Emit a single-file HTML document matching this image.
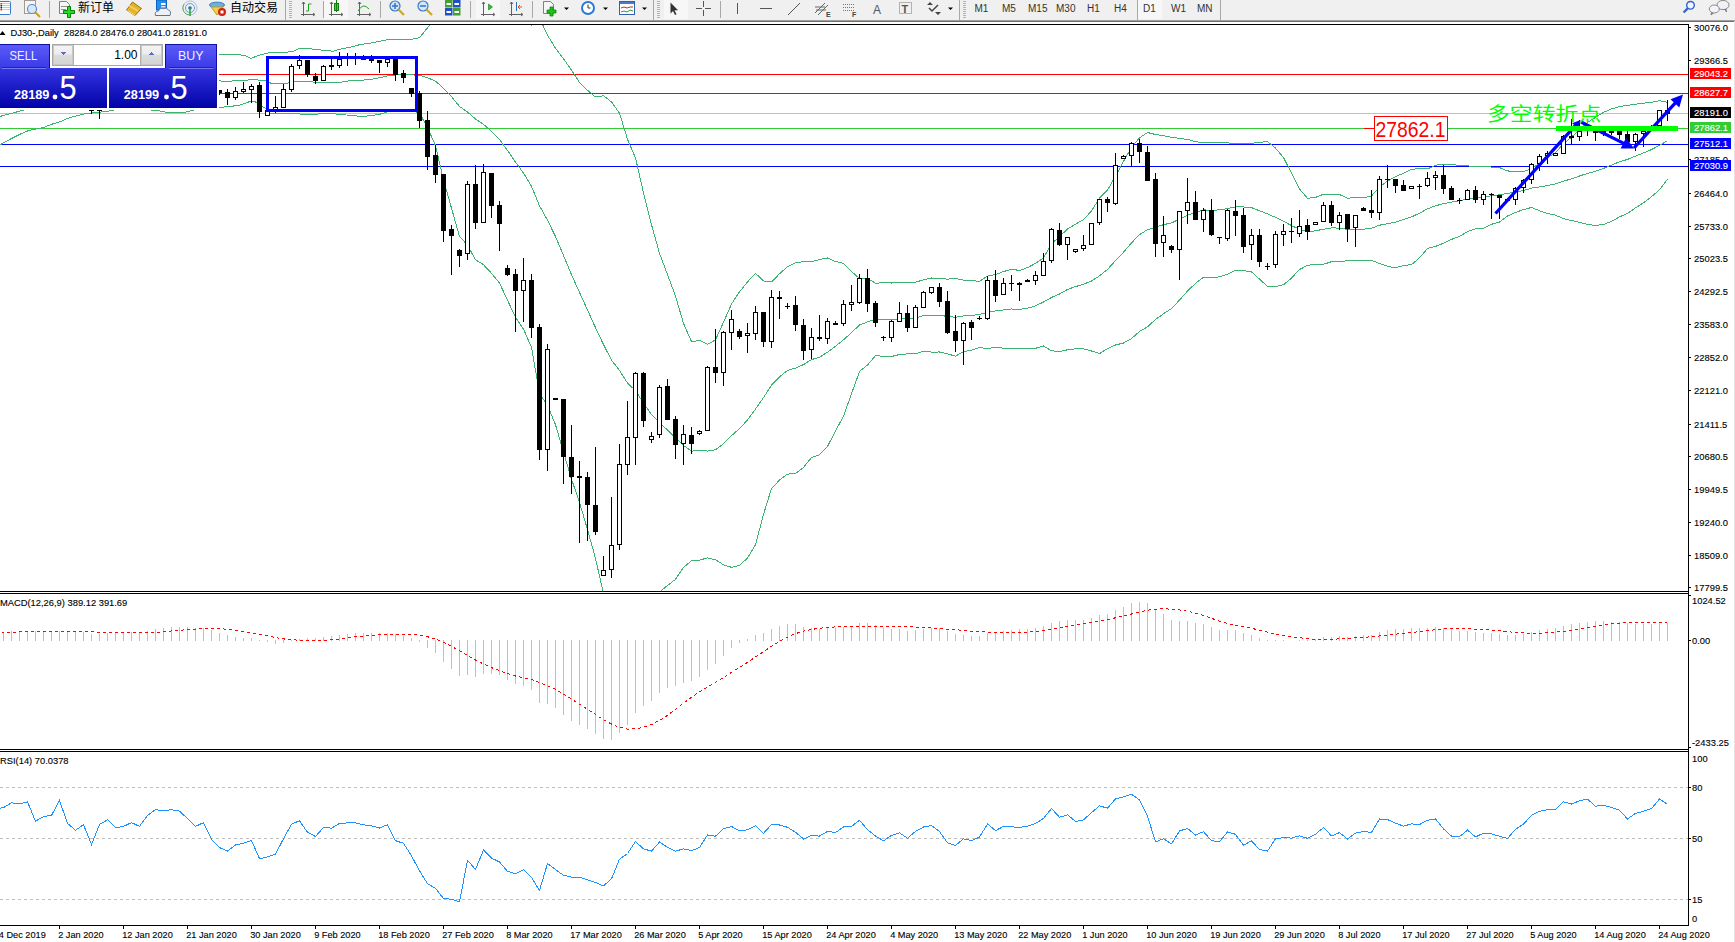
<!DOCTYPE html>
<html><head><meta charset="utf-8">
<style>
html,body{margin:0;padding:0;background:#fff;}
body{width:1735px;height:942px;overflow:hidden;position:relative;}
svg{position:absolute;left:0;top:0;}
text{shape-rendering:auto;}
</style></head><body>
<svg width="1735" height="942" viewBox="0 0 1735 942" shape-rendering="crispEdges">
<rect x="0" y="0" width="1735" height="20" fill="#f0f0f0"/>
<rect x="0" y="20" width="1735" height="1" fill="#a0a0a0"/>
<rect x="0" y="21" width="1735" height="1" fill="#6e6e6e"/>
<rect x="49" y="1" width="1" height="17" fill="#a8a8a8"/>
<rect x="323" y="1" width="1" height="17" fill="#a8a8a8"/>
<rect x="380" y="1" width="1" height="17" fill="#a8a8a8"/>
<rect x="470" y="1" width="1" height="17" fill="#a8a8a8"/>
<rect x="532" y="1" width="1" height="17" fill="#a8a8a8"/>
<rect x="720" y="1" width="1" height="17" fill="#a8a8a8"/>
<rect x="285" y="0" width="1" height="20" fill="#a8a8a8"/>
<rect x="653" y="0" width="1" height="20" fill="#a8a8a8"/>
<rect x="959" y="0" width="1" height="20" fill="#a8a8a8"/>
<rect x="1137" y="0" width="1" height="20" fill="#a8a8a8"/>
<rect x="1220" y="0" width="1" height="20" fill="#a8a8a8"/>
<rect x="289" y="1" width="3" height="1" fill="#b4b4b4"/>
<rect x="289" y="3" width="3" height="1" fill="#b4b4b4"/>
<rect x="289" y="5" width="3" height="1" fill="#b4b4b4"/>
<rect x="289" y="7" width="3" height="1" fill="#b4b4b4"/>
<rect x="289" y="9" width="3" height="1" fill="#b4b4b4"/>
<rect x="289" y="11" width="3" height="1" fill="#b4b4b4"/>
<rect x="289" y="13" width="3" height="1" fill="#b4b4b4"/>
<rect x="289" y="15" width="3" height="1" fill="#b4b4b4"/>
<rect x="289" y="17" width="3" height="1" fill="#b4b4b4"/>
<rect x="657" y="1" width="3" height="1" fill="#b4b4b4"/>
<rect x="657" y="3" width="3" height="1" fill="#b4b4b4"/>
<rect x="657" y="5" width="3" height="1" fill="#b4b4b4"/>
<rect x="657" y="7" width="3" height="1" fill="#b4b4b4"/>
<rect x="657" y="9" width="3" height="1" fill="#b4b4b4"/>
<rect x="657" y="11" width="3" height="1" fill="#b4b4b4"/>
<rect x="657" y="13" width="3" height="1" fill="#b4b4b4"/>
<rect x="657" y="15" width="3" height="1" fill="#b4b4b4"/>
<rect x="657" y="17" width="3" height="1" fill="#b4b4b4"/>
<rect x="963" y="1" width="3" height="1" fill="#b4b4b4"/>
<rect x="963" y="3" width="3" height="1" fill="#b4b4b4"/>
<rect x="963" y="5" width="3" height="1" fill="#b4b4b4"/>
<rect x="963" y="7" width="3" height="1" fill="#b4b4b4"/>
<rect x="963" y="9" width="3" height="1" fill="#b4b4b4"/>
<rect x="963" y="11" width="3" height="1" fill="#b4b4b4"/>
<rect x="963" y="13" width="3" height="1" fill="#b4b4b4"/>
<rect x="963" y="15" width="3" height="1" fill="#b4b4b4"/>
<rect x="963" y="17" width="3" height="1" fill="#b4b4b4"/>
<rect x="324" y="0" width="24" height="19" fill="#f7f7f7"/>
<rect x="476" y="0" width="24" height="19" fill="#f7f7f7"/>
<rect x="664" y="0" width="24" height="19" fill="#f7f7f7"/>
<rect x="1138" y="0" width="24" height="19" fill="#f7f7f7"/>
<g shape-rendering="geometricPrecision">
<rect x="-2.5" y="1.5" width="13" height="13" rx="1" fill="#fff" stroke="#3a78c8"/>
<line x1="2" y1="3.5" x2="10" y2="3.5" stroke="#b8c8f0"/>
<rect x="0.5" y="3.0" width="1.5" height="1.5" fill="#e02020"/>
<line x1="2" y1="5.5" x2="10" y2="5.5" stroke="#b8c8f0"/>
<rect x="0.5" y="5.0" width="1.5" height="1.5" fill="#202020"/>
<line x1="2" y1="7.5" x2="10" y2="7.5" stroke="#b8c8f0"/>
<rect x="0.5" y="7.0" width="1.5" height="1.5" fill="#202020"/>
<line x1="2" y1="9.5" x2="10" y2="9.5" stroke="#b8c8f0"/>
<rect x="0.5" y="9.0" width="1.5" height="1.5" fill="#e02020"/>
<rect x="24.5" y="0.5" width="11" height="13" fill="#f4f4f4" stroke="#a09a90"/>
<circle cx="32" cy="9" r="4.5" fill="#d8e8f8" stroke="#5a8ad8" stroke-width="1.2"/>
<line x1="35" y1="12" x2="40" y2="17" stroke="#c8a020" stroke-width="2"/>
<path d="M59.5,1.5 h7 l3,3 v9 h-10 z" fill="#f6f6f6" stroke="#808080"/>
<line x1="61" y1="6.5" x2="67" y2="6.5" stroke="#909090"/><line x1="61" y1="9.5" x2="66" y2="9.5" stroke="#909090"/>
<path d="M67.5,6.5 h3 v4 h4 v3 h-4 v4 h-3 v-4 h-4 v-3 h4 z" fill="#22dd22" stroke="#0a800a" stroke-width="1"/>
<path d="M126.5,10 L132.5,2 L141.5,8.5 L135,15.5 Z" fill="#e2b428" stroke="#a86c10" stroke-width="1"/>
<path d="M127.5,10.5 L135,15" stroke="#f6e090" stroke-width="1"/>
<path d="M129,5.5 L138,11" stroke="#f0d060" stroke-width="2"/>
<rect x="156.5" y="0" width="10" height="10" fill="#1e90f0" stroke="#1060c0"/>
<rect x="161" y="3" width="4.5" height="2" fill="#fff"/><rect x="161" y="6" width="4.5" height="1.5" fill="#cfe6ff"/>
<path d="M155.5,15.5 q-1.5,-4 3,-4.5 q1,-3.5 5,-2.5 q3,-1.5 5,1.5 q3,0.5 1.5,5.5 z" fill="#eef0f6" stroke="#5a70a0" stroke-width="1"/>
<circle cx="190" cy="8" r="7" fill="none" stroke="#a8c0e8"/>
<circle cx="190" cy="8" r="4.5" fill="none" stroke="#6a98d8"/>
<circle cx="190" cy="8" r="1.8" fill="#2a68c8"/>
<path d="M190,8 v8" stroke="#30a030" stroke-width="1.5"/>
<path d="M184,4 a7,7 0 0 0 6,11" fill="none" stroke="#60b060"/>
<ellipse cx="217" cy="5" rx="7.5" ry="2.8" fill="#70b0e0" stroke="#3a80c0"/>
<path d="M211,7 l6,8 l6,-8 z" fill="#f0d040" stroke="#c0a020"/>
<circle cx="222" cy="12" r="4" fill="#d02010"/>
<rect x="220.5" y="10.5" width="3" height="3" fill="#fff"/>
<path d="M303.5,2 v14 M301,14.5 h13" stroke="#606060" fill="none"/>
<path d="M302,4 l1.5,-2 l1.5,2 M313,13 l2,1.5 l-2,1.5" stroke="#606060" fill="none"/>
<path d="M308.5,11 v-7 h3 M306,11 h2.5" stroke="#20a020" fill="none"/>
<path d="M331.5,2 v14 M329,14.5 h13" stroke="#606060" fill="none"/>
<path d="M330,4 l1.5,-2 l1.5,2 M341,13 l2,1.5 l-2,1.5" stroke="#606060" fill="none"/>
<rect x="334.5" y="3.5" width="4" height="7" fill="#40d040" stroke="#108010"/>
<line x1="336.5" y1="0" x2="336.5" y2="12" stroke="#108010"/>
<path d="M359.5,2 v14 M357,14.5 h13" stroke="#606060" fill="none"/>
<path d="M358,4 l1.5,-2 l1.5,2 M369,13 l2,1.5 l-2,1.5" stroke="#606060" fill="none"/>
<path d="M358,11 q5,-9 11,-2" stroke="#30a030" fill="none"/>
<circle cx="395" cy="6" r="5" fill="#d4e8fa" stroke="#3a78c8" stroke-width="1.2"/>
<line x1="398.5" y1="9.5" x2="404" y2="15" stroke="#c8a830" stroke-width="2.2"/>
<line x1="392" y1="6" x2="398" y2="6" stroke="#3a78c8" stroke-width="1.6"/>
<line x1="395" y1="3" x2="395" y2="9" stroke="#3a78c8" stroke-width="1.6"/>
<circle cx="423" cy="6" r="5" fill="#d4e8fa" stroke="#3a78c8" stroke-width="1.2"/>
<line x1="426.5" y1="9.5" x2="432" y2="15" stroke="#c8a830" stroke-width="2.2"/>
<line x1="420" y1="6" x2="426" y2="6" stroke="#3a78c8" stroke-width="1.6"/>
<rect x="445" y="0" width="7.5" height="7.5" fill="#40a030"/>
<rect x="446.5" y="3" width="4.5" height="2" fill="#fff"/>
<rect x="453" y="0" width="7.5" height="7.5" fill="#2050c8"/>
<rect x="454.5" y="3" width="4.5" height="2" fill="#fff"/>
<rect x="445" y="8" width="7.5" height="7.5" fill="#2050c8"/>
<rect x="446.5" y="11" width="4.5" height="2" fill="#fff"/>
<rect x="453" y="8" width="7.5" height="7.5" fill="#40a030"/>
<rect x="454.5" y="11" width="4.5" height="2" fill="#fff"/>
<path d="M483.5,2 v14 M481,14.5 h13" stroke="#606060" fill="none"/>
<path d="M482,4 l1.5,-2 l1.5,2 M493,13 l2,1.5 l-2,1.5" stroke="#606060" fill="none"/>
<path d="M488.5,4 v6 l4,-3 z" fill="#30c030" stroke="#108010" stroke-width="0.6"/>
<path d="M511.5,2 v14 M509,14.5 h13" stroke="#606060" fill="none"/>
<path d="M510,4 l1.5,-2 l1.5,2 M521,13 l2,1.5 l-2,1.5" stroke="#606060" fill="none"/>
<line x1="516.5" y1="2" x2="516.5" y2="11" stroke="#2a70c0"/>
<path d="M522,7 h-4 l2,-2 M518,7 l2,2" stroke="#e05010" fill="none"/>
<path d="M543.5,1.5 h7 l3,3 v9 h-10 z" fill="#f6f6f6" stroke="#808080"/>
<path d="M550,7 h3 v3 h3 v3 h-3 v3 h-3 v-3 h-3 v-3 h3 z" fill="#20c020" stroke="#108010" stroke-width="0.8"/>
<path d="M564,7.5 h5 l-2.5,2.5 z" fill="#000"/>
<path d="M603,7.5 h5 l-2.5,2.5 z" fill="#000"/>
<path d="M642,7.5 h5 l-2.5,2.5 z" fill="#000"/>
<path d="M948,7.5 h5 l-2.5,2.5 z" fill="#000"/>
<circle cx="588" cy="8" r="7" fill="#2a78d8"/><circle cx="588" cy="8" r="5" fill="#fff"/>
<path d="M588,4.5 v3.5 h2.5" stroke="#333" fill="none"/>
<rect x="619.5" y="1.5" width="15" height="13" fill="#fff" stroke="#3060b0"/>
<rect x="620" y="2" width="14" height="2" fill="#4a7ad0"/>
<path d="M621,8 l3,-1 l3,1 l3,-1 l3,0" stroke="#c03020" fill="none"/>
<path d="M621,12 l3,-1 l3,1 l3,-2 l3,1" stroke="#30a030" fill="none"/>
<path d="M670.5,2.5 v11 l2.5,-2.5 l2,4 l1.5,-0.8 l-2,-4 h3.5 z" fill="#333"/>
<path d="M696,8.5 h15 M703.5,1 v15" stroke="#555" fill="none"/>
<rect x="702" y="7" width="3" height="3" fill="#f0f0f0"/>
<line x1="737.5" y1="3" x2="737.5" y2="14" stroke="#555"/>
<line x1="760" y1="8.5" x2="772" y2="8.5" stroke="#555"/>
<line x1="788" y1="15" x2="800" y2="3" stroke="#555"/>
<path d="M815,13 l10,-10 M818,15 l10,-10 M816,10 h10 M815,7 h10" stroke="#666" fill="none"/>
<text x="826" y="17" font-family='"Liberation Sans","Noto Sans CJK SC",sans-serif' font-size="7" font-weight="bold" fill="#444">E</text>
<path d="M843,4.5 h12 M843,7.5 h12 M843,10.5 h12" stroke="#777" stroke-dasharray="1 1" fill="none"/>
<text x="852" y="17" font-family='"Liberation Sans","Noto Sans CJK SC",sans-serif' font-size="7" font-weight="bold" fill="#444">F</text>
<text x="873" y="14" font-family='"Liberation Sans","Noto Sans CJK SC",sans-serif' font-size="12" fill="#555">A</text>
<rect x="899.5" y="2.5" width="12" height="11" fill="none" stroke="#777" stroke-dasharray="1 1"/>
<text x="901.5" y="12.5" font-family='"Liberation Sans","Noto Sans CJK SC",sans-serif' font-size="11" font-weight="bold" fill="#555">T</text>
<path d="M927,5 l3,-3 l3,3 z M935,12 l3,3 l3,-3 z" fill="#444"/>
<path d="M929,8 l3,3 l6,-6" stroke="#444" stroke-width="1.5" fill="none"/>
<circle cx="1690.5" cy="5.3" r="3.8" fill="#f4f4ff" stroke="#2a62d0" stroke-width="1.4"/>
<line x1="1687.8" y1="8.3" x2="1683.6" y2="12.6" stroke="#2a62d0" stroke-width="2.2"/>
<ellipse cx="1723" cy="5" rx="6" ry="4.6" fill="#f2f2f6" stroke="#8a8a8a"/>
<path d="M1724.5,9 l2,3 l-0.5,-3" fill="#777" stroke="#777" stroke-width="0.8"/>
<ellipse cx="1714.3" cy="9" rx="5" ry="4" fill="#f4f4f8" stroke="#8a8a8a"/>
<path d="M1711.5,12.5 l-0.5,2.5 l2.5,-2" fill="#777" stroke="#777" stroke-width="0.8"/>
</g>
<text x="78" y="12" font-family='"Noto Sans CJK SC","WenQuanYi Zen Hei",sans-serif' font-size="12" fill="#000">新订单</text>
<text x="230" y="12" font-family='"Noto Sans CJK SC","WenQuanYi Zen Hei",sans-serif' font-size="12" fill="#000">自动交易</text>
<text x="974.5" y="12" font-family='"Liberation Sans","Noto Sans CJK SC",sans-serif' font-size="10" fill="#333">M1</text>
<text x="1002" y="12" font-family='"Liberation Sans","Noto Sans CJK SC",sans-serif' font-size="10" fill="#333">M5</text>
<text x="1028" y="12" font-family='"Liberation Sans","Noto Sans CJK SC",sans-serif' font-size="10" fill="#333">M15</text>
<text x="1056" y="12" font-family='"Liberation Sans","Noto Sans CJK SC",sans-serif' font-size="10" fill="#333">M30</text>
<text x="1087" y="12" font-family='"Liberation Sans","Noto Sans CJK SC",sans-serif' font-size="10" fill="#333">H1</text>
<text x="1114" y="12" font-family='"Liberation Sans","Noto Sans CJK SC",sans-serif' font-size="10" fill="#333">H4</text>
<text x="1143" y="12" font-family='"Liberation Sans","Noto Sans CJK SC",sans-serif' font-size="10" fill="#333">D1</text>
<text x="1171" y="12" font-family='"Liberation Sans","Noto Sans CJK SC",sans-serif' font-size="10" fill="#333">W1</text>
<text x="1197" y="12" font-family='"Liberation Sans","Noto Sans CJK SC",sans-serif' font-size="10" fill="#333">MN</text>
<svg x="0" y="0" width="1688" height="591" viewBox="0 0 1688 591" overflow="hidden">
<rect x="0" y="25" width="1688" height="566" fill="#fff"/>
<clipPath id="cm"><rect x="0" y="25" width="1688" height="566"/></clipPath>
<g clip-path="url(#cm)">
<rect x="0" y="74" width="1688" height="1" fill="#ff0000"/>
<rect x="0" y="93" width="1688" height="1" fill="#ff0000"/>
<rect x="0" y="113" width="1688" height="1" fill="#c0c0c0"/>
<rect x="0" y="128" width="1688" height="1" fill="#32cd32"/>
<rect x="0" y="144" width="1688" height="1" fill="#0000ff"/>
<rect x="0" y="166" width="1688" height="1" fill="#0000ff"/>
<rect x="1364" y="128" width="10" height="1" fill="#ff0000"/>
<polyline points="219.0,54.3 232.0,54.3 245.0,55.3 251.0,58.5 257.0,56.0 266.0,53.4 271.0,52.3 287.0,52.2 293.0,51.3 298.0,49.0 310.0,48.4 314.0,49.5 327.0,50.4 333.0,51.4 340.3,49.1 349.9,47.2 359.4,44.8 371.5,42.9 379.5,41.3 387.5,39.8 395.5,39.6 403.5,39.6 411.5,39.3 419.5,37.7 427.5,27.8 435.5,16.6 443.5,-3.7 451.5,-14.8 459.5,-23.3 467.5,-21.2 475.5,-21.7 483.5,-16.0 491.5,-10.7 499.5,-3.9 507.5,0.6 515.5,6.7 523.5,17.0 531.5,25.4 539.5,17.9 547.5,35.2 555.5,48.3 563.5,58.7 571.5,70.1 579.5,82.4 587.5,90.2 595.5,97.0 603.5,95.8 611.5,101.9 619.5,113.2 627.5,139.2 635.5,157.9 643.5,192.9 651.5,224.6 659.5,253.3 667.5,274.6 675.5,296.0 683.5,323.4 691.5,341.7 699.5,340.4 707.5,344.4 715.5,339.9 723.5,322.3 731.5,304.0 739.5,291.8 747.5,281.9 755.5,273.3 763.5,280.9 771.5,281.9 779.5,273.8 787.5,266.8 795.5,262.6 803.5,261.7 811.5,261.6 819.5,259.6 827.5,258.0 835.5,261.5 843.5,263.4 851.5,271.5 859.5,278.5 867.5,278.7 875.5,283.1 883.5,282.9 891.5,283.0 899.5,282.6 907.5,282.7 915.5,282.2 923.5,279.8 931.5,278.0 939.5,278.4 947.5,279.1 955.5,278.5 963.5,280.2 971.5,280.6 979.5,281.3 987.5,276.2 995.5,274.5 1003.5,271.6 1011.5,269.2 1019.5,270.5 1027.5,267.6 1035.5,263.4 1043.5,258.0 1051.5,244.0 1059.5,236.5 1067.5,229.1 1075.5,224.3 1083.5,219.5 1091.5,211.0 1099.5,198.1 1107.5,190.1 1115.5,176.1 1123.5,161.4 1131.5,147.3 1139.5,137.8 1147.5,132.5 1155.5,134.5 1163.5,135.6 1171.5,137.3 1179.5,138.4 1187.5,139.4 1195.5,141.7 1203.5,142.7 1211.5,142.7 1219.5,143.0 1227.5,142.8 1235.5,143.7 1243.5,143.5 1251.5,143.3 1259.5,142.4 1267.5,141.5 1275.5,148.1 1283.5,157.6 1291.5,173.1 1299.5,189.1 1307.5,198.3 1315.5,197.4 1323.5,194.2 1331.5,194.1 1339.5,194.6 1347.5,198.2 1355.5,197.5 1363.5,197.7 1371.5,196.0 1379.5,186.9 1387.5,181.1 1395.5,176.6 1403.5,173.3 1411.5,169.3 1419.5,168.6 1427.5,169.0 1435.5,165.2 1443.5,164.2 1451.5,164.8 1459.5,165.2 1467.5,165.9 1475.5,166.5 1483.5,166.1 1491.5,167.1 1499.5,167.6 1507.5,170.9 1515.5,171.8 1523.5,171.5 1531.5,168.7 1539.5,163.2 1547.5,157.8 1555.5,152.7 1563.5,143.8 1571.5,137.1 1579.5,129.6 1587.5,122.4 1595.5,117.3 1603.5,112.4 1611.5,108.9 1619.5,106.7 1627.5,105.3 1635.5,104.3 1643.5,103.1 1651.5,102.4 1659.5,100.6 1667.5,102.3" fill="none" stroke="#3cb371" stroke-width="1" shape-rendering="crispEdges"/>
<polyline points="0.0,116.4 22.5,110.4 60.0,100.0 120.0,90.0 180.0,84.0 219.0,80.6 224.0,81.6 231.0,81.6 233.0,80.3 247.0,80.3 250.0,79.2 256.0,79.2 260.0,80.6 266.0,80.6 268.0,82.2 272.0,83.5 287.0,83.5 290.0,82.0 295.0,81.3 312.0,81.3 314.0,82.5 326.0,82.5 342.0,82.0 351.0,80.6 363.0,80.1 371.5,79.3 379.5,77.8 387.5,75.8 395.5,75.0 403.5,74.5 411.5,74.9 419.5,75.3 427.5,77.7 435.5,81.1 443.5,88.2 451.5,96.7 459.5,106.5 467.5,112.0 475.5,119.0 483.5,124.3 491.5,131.3 499.5,139.6 507.5,150.4 515.5,162.1 523.5,173.1 531.5,186.4 539.5,205.8 547.5,220.2 555.5,236.5 563.5,255.4 571.5,274.6 579.5,292.4 587.5,309.9 595.5,327.7 603.5,344.6 611.5,360.1 619.5,370.5 627.5,383.1 635.5,390.6 643.5,403.1 651.5,414.6 659.5,422.8 667.5,430.0 675.5,437.7 683.5,445.4 691.5,451.2 699.5,450.2 707.5,451.1 715.5,449.8 723.5,443.6 731.5,435.6 739.5,428.6 747.5,420.0 755.5,409.0 763.5,397.6 771.5,385.2 779.5,376.9 787.5,370.4 795.5,368.1 803.5,364.6 811.5,359.6 819.5,357.2 827.5,352.2 835.5,346.2 843.5,339.8 851.5,332.6 859.5,325.0 867.5,321.9 875.5,319.4 883.5,319.6 891.5,319.8 899.5,318.6 907.5,318.3 915.5,318.1 923.5,315.6 931.5,315.1 939.5,315.2 947.5,316.5 955.5,317.3 963.5,315.9 971.5,315.4 979.5,314.4 987.5,312.4 995.5,310.9 1003.5,309.9 1011.5,309.0 1019.5,309.4 1027.5,308.2 1035.5,305.9 1043.5,302.0 1051.5,297.4 1059.5,294.0 1067.5,289.4 1075.5,286.6 1083.5,284.2 1091.5,281.0 1099.5,275.9 1107.5,269.4 1115.5,260.6 1123.5,252.2 1131.5,242.9 1139.5,234.6 1147.5,229.7 1155.5,227.1 1163.5,224.7 1171.5,222.9 1179.5,219.2 1187.5,215.2 1195.5,212.5 1203.5,209.9 1211.5,210.2 1219.5,209.9 1227.5,208.6 1235.5,206.9 1243.5,207.0 1251.5,207.6 1259.5,210.8 1267.5,213.9 1275.5,217.4 1283.5,221.2 1291.5,225.6 1299.5,229.3 1307.5,231.8 1315.5,230.8 1323.5,229.2 1331.5,227.9 1339.5,228.1 1347.5,229.4 1355.5,229.2 1363.5,229.2 1371.5,228.2 1379.5,225.2 1387.5,223.7 1395.5,222.2 1403.5,219.4 1411.5,216.9 1419.5,213.2 1427.5,208.8 1435.5,205.8 1443.5,203.7 1451.5,202.1 1459.5,200.8 1467.5,198.8 1475.5,197.7 1483.5,197.1 1491.5,195.7 1499.5,194.8 1507.5,193.4 1515.5,192.1 1523.5,190.6 1531.5,188.1 1539.5,186.9 1547.5,185.6 1555.5,183.9 1563.5,181.2 1571.5,178.8 1579.5,176.0 1587.5,173.4 1595.5,171.3 1603.5,168.4 1611.5,165.1 1619.5,161.8 1627.5,159.4 1635.5,156.1 1643.5,152.9 1651.5,149.6 1659.5,145.2 1667.5,140.8" fill="none" stroke="#3cb371" stroke-width="1" shape-rendering="crispEdges"/>
<polyline points="0.0,144.8 2.1,143.7 10.4,139.1 20.7,133.9 29.0,130.4 36.0,129.0 42.9,127.7 51.9,124.2 60.9,121.4 67.8,118.3 76.1,115.9 83.0,114.2 89.9,113.1 96.8,112.4 103.7,111.8 112.7,110.4 125.0,106.0 140.0,106.0 152.0,110.4 160.4,111.0 168.7,112.7 182.6,112.7 193.0,110.4 205.0,107.0 219.0,107.5 230.0,106.4 239.0,105.4 251.0,101.1 256.0,102.1 263.0,106.9 266.0,108.8 270.0,113.1 290.0,113.6 313.0,114.5 326.0,113.1 335.6,114.0 351.8,115.5 360.4,116.4 371.5,115.7 379.5,114.3 387.5,111.9 395.5,110.5 403.5,109.4 411.5,110.5 419.5,113.0 427.5,127.6 435.5,145.6 443.5,180.1 451.5,208.2 459.5,236.3 467.5,245.1 475.5,259.8 483.5,264.7 491.5,273.3 499.5,283.0 507.5,300.2 515.5,317.4 523.5,329.1 531.5,347.4 539.5,393.6 547.5,405.3 555.5,424.7 563.5,452.2 571.5,479.1 579.5,502.5 587.5,529.5 595.5,558.4 603.5,593.5 611.5,618.3 619.5,627.8 627.5,627.1 635.5,623.4 643.5,613.3 651.5,604.6 659.5,592.2 667.5,585.4 675.5,579.4 683.5,567.4 691.5,560.7 699.5,560.1 707.5,557.9 715.5,559.7 723.5,564.8 731.5,567.3 739.5,565.4 747.5,558.1 755.5,544.7 763.5,514.3 771.5,488.5 779.5,480.1 787.5,474.1 795.5,473.5 803.5,467.4 811.5,457.6 819.5,454.8 827.5,446.5 835.5,431.0 843.5,416.1 851.5,393.8 859.5,371.5 867.5,365.0 875.5,355.6 883.5,356.4 891.5,356.5 899.5,354.5 907.5,353.9 915.5,353.9 923.5,351.3 931.5,352.1 939.5,352.0 947.5,353.9 955.5,356.1 963.5,351.6 971.5,350.3 979.5,347.6 987.5,348.6 995.5,347.4 1003.5,348.2 1011.5,348.8 1019.5,348.2 1027.5,348.9 1035.5,348.3 1043.5,346.0 1051.5,350.8 1059.5,351.5 1067.5,349.8 1075.5,348.8 1083.5,348.9 1091.5,351.0 1099.5,353.6 1107.5,348.6 1115.5,345.0 1123.5,343.0 1131.5,338.6 1139.5,331.4 1147.5,326.8 1155.5,319.6 1163.5,313.7 1171.5,308.6 1179.5,300.1 1187.5,291.1 1195.5,283.3 1203.5,277.2 1211.5,277.8 1219.5,276.8 1227.5,274.3 1235.5,270.1 1243.5,270.5 1251.5,271.9 1259.5,279.1 1267.5,286.4 1275.5,286.7 1283.5,284.7 1291.5,278.1 1299.5,269.5 1307.5,265.4 1315.5,264.1 1323.5,264.3 1331.5,261.7 1339.5,261.6 1347.5,260.7 1355.5,260.9 1363.5,260.8 1371.5,260.3 1379.5,263.5 1387.5,266.3 1395.5,267.8 1403.5,265.5 1411.5,264.6 1419.5,257.8 1427.5,248.5 1435.5,246.4 1443.5,243.2 1451.5,239.4 1459.5,236.5 1467.5,231.6 1475.5,228.8 1483.5,228.1 1491.5,224.3 1499.5,222.1 1507.5,216.0 1515.5,212.4 1523.5,209.6 1531.5,207.5 1539.5,210.7 1547.5,213.4 1555.5,215.2 1563.5,218.6 1571.5,220.5 1579.5,222.4 1587.5,224.5 1595.5,225.4 1603.5,224.5 1611.5,221.3 1619.5,216.9 1627.5,213.5 1635.5,207.9 1643.5,202.8 1651.5,196.7 1659.5,189.7 1667.5,179.3" fill="none" stroke="#3cb371" stroke-width="1" shape-rendering="crispEdges"/>
<rect x="219" y="90" width="1" height="5" fill="#000"/>
<rect x="217" y="90" width="5" height="3" fill="#000"/>
<rect x="227" y="89" width="1" height="16" fill="#000"/>
<rect x="225" y="92" width="5" height="6" fill="#000"/>
<rect x="235" y="87" width="1" height="13" fill="#000"/>
<rect x="233" y="91" width="5" height="7" fill="#000"/>
<rect x="234" y="92" width="3" height="5" fill="#fff"/>
<rect x="243" y="82" width="1" height="11" fill="#000"/>
<rect x="241" y="89" width="5" height="3" fill="#000"/>
<rect x="242" y="90" width="3" height="1" fill="#fff"/>
<rect x="251" y="84" width="1" height="19" fill="#000"/>
<rect x="249" y="86" width="5" height="4" fill="#000"/>
<rect x="250" y="87" width="3" height="2" fill="#fff"/>
<rect x="259" y="82" width="1" height="36" fill="#000"/>
<rect x="257" y="85" width="5" height="27" fill="#000"/>
<rect x="267" y="108" width="1" height="8" fill="#000"/>
<rect x="265" y="110" width="5" height="6" fill="#000"/>
<rect x="266" y="111" width="3" height="4" fill="#fff"/>
<rect x="275" y="96" width="1" height="17" fill="#000"/>
<rect x="273" y="107" width="5" height="4" fill="#000"/>
<rect x="274" y="108" width="3" height="2" fill="#fff"/>
<rect x="283" y="84" width="1" height="24" fill="#000"/>
<rect x="281" y="89" width="5" height="19" fill="#000"/>
<rect x="282" y="90" width="3" height="17" fill="#fff"/>
<rect x="291" y="64" width="1" height="28" fill="#000"/>
<rect x="289" y="66" width="5" height="24" fill="#000"/>
<rect x="290" y="67" width="3" height="22" fill="#fff"/>
<rect x="299" y="55" width="1" height="14" fill="#000"/>
<rect x="297" y="60" width="5" height="6" fill="#000"/>
<rect x="298" y="61" width="3" height="4" fill="#fff"/>
<rect x="307" y="60" width="1" height="17" fill="#000"/>
<rect x="305" y="60" width="5" height="15" fill="#000"/>
<rect x="315" y="73" width="1" height="11" fill="#000"/>
<rect x="313" y="76" width="5" height="5" fill="#000"/>
<rect x="323" y="65" width="1" height="16" fill="#000"/>
<rect x="321" y="66" width="5" height="15" fill="#000"/>
<rect x="322" y="67" width="3" height="13" fill="#fff"/>
<rect x="331" y="57" width="1" height="13" fill="#000"/>
<rect x="329" y="65" width="5" height="2" fill="#000"/>
<rect x="339" y="52" width="1" height="16" fill="#000"/>
<rect x="337" y="59" width="5" height="7" fill="#000"/>
<rect x="338" y="60" width="3" height="5" fill="#fff"/>
<rect x="347" y="53" width="1" height="13" fill="#000"/>
<rect x="345" y="57" width="5" height="1" fill="#000"/>
<rect x="355" y="53" width="1" height="12" fill="#000"/>
<rect x="353" y="57" width="5" height="1" fill="#000"/>
<rect x="363" y="55" width="1" height="5" fill="#000"/>
<rect x="361" y="58" width="5" height="2" fill="#000"/>
<rect x="371" y="55" width="1" height="8" fill="#000"/>
<rect x="369" y="59" width="5" height="2" fill="#000"/>
<rect x="379" y="60" width="1" height="13" fill="#000"/>
<rect x="377" y="60" width="5" height="3" fill="#000"/>
<rect x="387" y="57" width="1" height="10" fill="#000"/>
<rect x="385" y="59" width="5" height="4" fill="#000"/>
<rect x="386" y="60" width="3" height="2" fill="#fff"/>
<rect x="395" y="58" width="1" height="23" fill="#000"/>
<rect x="393" y="58" width="5" height="17" fill="#000"/>
<rect x="403" y="70" width="1" height="13" fill="#000"/>
<rect x="401" y="73" width="5" height="5" fill="#000"/>
<rect x="411" y="88" width="1" height="9" fill="#000"/>
<rect x="409" y="88" width="5" height="6" fill="#000"/>
<rect x="419" y="91" width="1" height="37" fill="#000"/>
<rect x="417" y="93" width="5" height="28" fill="#000"/>
<rect x="427" y="111" width="1" height="59" fill="#000"/>
<rect x="425" y="120" width="5" height="37" fill="#000"/>
<rect x="435" y="145" width="1" height="38" fill="#000"/>
<rect x="433" y="155" width="5" height="20" fill="#000"/>
<rect x="443" y="174" width="1" height="68" fill="#000"/>
<rect x="441" y="174" width="5" height="57" fill="#000"/>
<rect x="451" y="225" width="1" height="50" fill="#000"/>
<rect x="449" y="229" width="5" height="7" fill="#000"/>
<rect x="459" y="249" width="1" height="18" fill="#000"/>
<rect x="457" y="250" width="5" height="6" fill="#000"/>
<rect x="467" y="181" width="1" height="79" fill="#000"/>
<rect x="465" y="184" width="5" height="70" fill="#000"/>
<rect x="466" y="185" width="3" height="68" fill="#fff"/>
<rect x="475" y="165" width="1" height="64" fill="#000"/>
<rect x="473" y="184" width="5" height="39" fill="#000"/>
<rect x="483" y="164" width="1" height="59" fill="#000"/>
<rect x="481" y="172" width="5" height="51" fill="#000"/>
<rect x="482" y="173" width="3" height="49" fill="#fff"/>
<rect x="491" y="173" width="1" height="45" fill="#000"/>
<rect x="489" y="173" width="5" height="33" fill="#000"/>
<rect x="499" y="201" width="1" height="50" fill="#000"/>
<rect x="497" y="205" width="5" height="19" fill="#000"/>
<rect x="507" y="265" width="1" height="11" fill="#000"/>
<rect x="505" y="268" width="5" height="7" fill="#000"/>
<rect x="515" y="269" width="1" height="63" fill="#000"/>
<rect x="513" y="274" width="5" height="17" fill="#000"/>
<rect x="523" y="258" width="1" height="64" fill="#000"/>
<rect x="521" y="280" width="5" height="11" fill="#000"/>
<rect x="522" y="281" width="3" height="9" fill="#fff"/>
<rect x="531" y="274" width="1" height="64" fill="#000"/>
<rect x="529" y="280" width="5" height="48" fill="#000"/>
<rect x="539" y="324" width="1" height="136" fill="#000"/>
<rect x="537" y="327" width="5" height="123" fill="#000"/>
<rect x="547" y="344" width="1" height="127" fill="#000"/>
<rect x="545" y="349" width="5" height="101" fill="#000"/>
<rect x="546" y="350" width="3" height="99" fill="#fff"/>
<rect x="555" y="398" width="1" height="2" fill="#000"/>
<rect x="553" y="398" width="5" height="2" fill="#000"/>
<rect x="563" y="399" width="1" height="85" fill="#000"/>
<rect x="561" y="399" width="5" height="58" fill="#000"/>
<rect x="571" y="425" width="1" height="69" fill="#000"/>
<rect x="569" y="457" width="5" height="20" fill="#000"/>
<rect x="579" y="461" width="1" height="82" fill="#000"/>
<rect x="577" y="476" width="5" height="2" fill="#000"/>
<rect x="587" y="472" width="1" height="69" fill="#000"/>
<rect x="585" y="477" width="5" height="28" fill="#000"/>
<rect x="595" y="447" width="1" height="88" fill="#000"/>
<rect x="593" y="505" width="5" height="27" fill="#000"/>
<rect x="603" y="556" width="1" height="20" fill="#000"/>
<rect x="601" y="570" width="5" height="6" fill="#000"/>
<rect x="602" y="571" width="3" height="4" fill="#fff"/>
<rect x="611" y="497" width="1" height="81" fill="#000"/>
<rect x="609" y="545" width="5" height="25" fill="#000"/>
<rect x="610" y="546" width="3" height="23" fill="#fff"/>
<rect x="619" y="444" width="1" height="106" fill="#000"/>
<rect x="617" y="464" width="5" height="81" fill="#000"/>
<rect x="618" y="465" width="3" height="79" fill="#fff"/>
<rect x="627" y="401" width="1" height="74" fill="#000"/>
<rect x="625" y="437" width="5" height="28" fill="#000"/>
<rect x="626" y="438" width="3" height="26" fill="#fff"/>
<rect x="635" y="372" width="1" height="93" fill="#000"/>
<rect x="633" y="373" width="5" height="65" fill="#000"/>
<rect x="634" y="374" width="3" height="63" fill="#fff"/>
<rect x="643" y="372" width="1" height="55" fill="#000"/>
<rect x="641" y="373" width="5" height="48" fill="#000"/>
<rect x="651" y="432" width="1" height="11" fill="#000"/>
<rect x="649" y="436" width="5" height="4" fill="#000"/>
<rect x="650" y="437" width="3" height="2" fill="#fff"/>
<rect x="659" y="385" width="1" height="53" fill="#000"/>
<rect x="657" y="387" width="5" height="48" fill="#000"/>
<rect x="658" y="388" width="3" height="46" fill="#fff"/>
<rect x="667" y="379" width="1" height="41" fill="#000"/>
<rect x="665" y="386" width="5" height="34" fill="#000"/>
<rect x="675" y="416" width="1" height="43" fill="#000"/>
<rect x="673" y="419" width="5" height="26" fill="#000"/>
<rect x="683" y="425" width="1" height="40" fill="#000"/>
<rect x="681" y="434" width="5" height="10" fill="#000"/>
<rect x="682" y="435" width="3" height="8" fill="#fff"/>
<rect x="691" y="427" width="1" height="27" fill="#000"/>
<rect x="689" y="435" width="5" height="9" fill="#000"/>
<rect x="699" y="430" width="1" height="5" fill="#000"/>
<rect x="697" y="431" width="5" height="3" fill="#000"/>
<rect x="698" y="432" width="3" height="1" fill="#fff"/>
<rect x="707" y="366" width="1" height="65" fill="#000"/>
<rect x="705" y="367" width="5" height="64" fill="#000"/>
<rect x="706" y="368" width="3" height="62" fill="#fff"/>
<rect x="715" y="329" width="1" height="54" fill="#000"/>
<rect x="713" y="367" width="5" height="6" fill="#000"/>
<rect x="723" y="331" width="1" height="55" fill="#000"/>
<rect x="721" y="332" width="5" height="41" fill="#000"/>
<rect x="722" y="333" width="3" height="39" fill="#fff"/>
<rect x="731" y="310" width="1" height="40" fill="#000"/>
<rect x="729" y="319" width="5" height="14" fill="#000"/>
<rect x="730" y="320" width="3" height="12" fill="#fff"/>
<rect x="739" y="329" width="1" height="10" fill="#000"/>
<rect x="737" y="331" width="5" height="6" fill="#000"/>
<rect x="747" y="323" width="1" height="30" fill="#000"/>
<rect x="745" y="333" width="5" height="3" fill="#000"/>
<rect x="746" y="334" width="3" height="1" fill="#fff"/>
<rect x="755" y="306" width="1" height="34" fill="#000"/>
<rect x="753" y="312" width="5" height="22" fill="#000"/>
<rect x="754" y="313" width="3" height="20" fill="#fff"/>
<rect x="763" y="312" width="1" height="35" fill="#000"/>
<rect x="761" y="312" width="5" height="30" fill="#000"/>
<rect x="771" y="290" width="1" height="58" fill="#000"/>
<rect x="769" y="297" width="5" height="45" fill="#000"/>
<rect x="770" y="298" width="3" height="43" fill="#fff"/>
<rect x="779" y="291" width="1" height="28" fill="#000"/>
<rect x="777" y="297" width="5" height="2" fill="#000"/>
<rect x="787" y="303" width="1" height="6" fill="#000"/>
<rect x="785" y="306" width="5" height="1" fill="#000"/>
<rect x="795" y="296" width="1" height="35" fill="#000"/>
<rect x="793" y="305" width="5" height="20" fill="#000"/>
<rect x="803" y="319" width="1" height="41" fill="#000"/>
<rect x="801" y="325" width="5" height="26" fill="#000"/>
<rect x="811" y="328" width="1" height="31" fill="#000"/>
<rect x="809" y="337" width="5" height="13" fill="#000"/>
<rect x="810" y="338" width="3" height="11" fill="#fff"/>
<rect x="819" y="315" width="1" height="26" fill="#000"/>
<rect x="817" y="337" width="5" height="2" fill="#000"/>
<rect x="827" y="318" width="1" height="26" fill="#000"/>
<rect x="825" y="321" width="5" height="18" fill="#000"/>
<rect x="826" y="322" width="3" height="16" fill="#fff"/>
<rect x="835" y="321" width="1" height="4" fill="#000"/>
<rect x="833" y="323" width="5" height="2" fill="#000"/>
<rect x="843" y="300" width="1" height="26" fill="#000"/>
<rect x="841" y="304" width="5" height="20" fill="#000"/>
<rect x="842" y="305" width="3" height="18" fill="#fff"/>
<rect x="851" y="285" width="1" height="26" fill="#000"/>
<rect x="849" y="302" width="5" height="3" fill="#000"/>
<rect x="850" y="303" width="3" height="1" fill="#fff"/>
<rect x="859" y="274" width="1" height="30" fill="#000"/>
<rect x="857" y="278" width="5" height="25" fill="#000"/>
<rect x="858" y="279" width="3" height="23" fill="#fff"/>
<rect x="867" y="269" width="1" height="43" fill="#000"/>
<rect x="865" y="278" width="5" height="26" fill="#000"/>
<rect x="875" y="301" width="1" height="26" fill="#000"/>
<rect x="873" y="303" width="5" height="20" fill="#000"/>
<rect x="883" y="336" width="1" height="5" fill="#000"/>
<rect x="881" y="337" width="5" height="1" fill="#000"/>
<rect x="891" y="320" width="1" height="22" fill="#000"/>
<rect x="889" y="321" width="5" height="17" fill="#000"/>
<rect x="890" y="322" width="3" height="15" fill="#fff"/>
<rect x="899" y="302" width="1" height="20" fill="#000"/>
<rect x="897" y="313" width="5" height="9" fill="#000"/>
<rect x="898" y="314" width="3" height="7" fill="#fff"/>
<rect x="907" y="305" width="1" height="27" fill="#000"/>
<rect x="905" y="313" width="5" height="15" fill="#000"/>
<rect x="915" y="305" width="1" height="23" fill="#000"/>
<rect x="913" y="307" width="5" height="21" fill="#000"/>
<rect x="914" y="308" width="3" height="19" fill="#fff"/>
<rect x="923" y="291" width="1" height="17" fill="#000"/>
<rect x="921" y="292" width="5" height="16" fill="#000"/>
<rect x="922" y="293" width="3" height="14" fill="#fff"/>
<rect x="931" y="287" width="1" height="7" fill="#000"/>
<rect x="929" y="287" width="5" height="6" fill="#000"/>
<rect x="930" y="288" width="3" height="4" fill="#fff"/>
<rect x="939" y="283" width="1" height="24" fill="#000"/>
<rect x="937" y="287" width="5" height="15" fill="#000"/>
<rect x="947" y="291" width="1" height="43" fill="#000"/>
<rect x="945" y="301" width="5" height="32" fill="#000"/>
<rect x="955" y="315" width="1" height="37" fill="#000"/>
<rect x="953" y="331" width="5" height="10" fill="#000"/>
<rect x="963" y="322" width="1" height="43" fill="#000"/>
<rect x="961" y="323" width="5" height="18" fill="#000"/>
<rect x="962" y="324" width="3" height="16" fill="#fff"/>
<rect x="971" y="320" width="1" height="20" fill="#000"/>
<rect x="969" y="322" width="5" height="6" fill="#000"/>
<rect x="979" y="316" width="1" height="4" fill="#000"/>
<rect x="977" y="318" width="5" height="1" fill="#000"/>
<rect x="987" y="276" width="1" height="44" fill="#000"/>
<rect x="985" y="280" width="5" height="39" fill="#000"/>
<rect x="986" y="281" width="3" height="37" fill="#fff"/>
<rect x="995" y="270" width="1" height="32" fill="#000"/>
<rect x="993" y="280" width="5" height="16" fill="#000"/>
<rect x="1003" y="278" width="1" height="17" fill="#000"/>
<rect x="1001" y="283" width="5" height="12" fill="#000"/>
<rect x="1002" y="284" width="3" height="10" fill="#fff"/>
<rect x="1011" y="275" width="1" height="16" fill="#000"/>
<rect x="1009" y="283" width="5" height="1" fill="#000"/>
<rect x="1019" y="282" width="1" height="19" fill="#000"/>
<rect x="1017" y="283" width="5" height="2" fill="#000"/>
<rect x="1027" y="279" width="1" height="3" fill="#000"/>
<rect x="1025" y="280" width="5" height="2" fill="#000"/>
<rect x="1035" y="271" width="1" height="14" fill="#000"/>
<rect x="1033" y="275" width="5" height="6" fill="#000"/>
<rect x="1034" y="276" width="3" height="4" fill="#fff"/>
<rect x="1043" y="253" width="1" height="23" fill="#000"/>
<rect x="1041" y="261" width="5" height="15" fill="#000"/>
<rect x="1042" y="262" width="3" height="13" fill="#fff"/>
<rect x="1051" y="228" width="1" height="35" fill="#000"/>
<rect x="1049" y="229" width="5" height="32" fill="#000"/>
<rect x="1050" y="230" width="3" height="30" fill="#fff"/>
<rect x="1059" y="223" width="1" height="23" fill="#000"/>
<rect x="1057" y="230" width="5" height="15" fill="#000"/>
<rect x="1067" y="237" width="1" height="23" fill="#000"/>
<rect x="1065" y="237" width="5" height="8" fill="#000"/>
<rect x="1066" y="238" width="3" height="6" fill="#fff"/>
<rect x="1075" y="249" width="1" height="4" fill="#000"/>
<rect x="1073" y="249" width="5" height="3" fill="#000"/>
<rect x="1074" y="250" width="3" height="1" fill="#fff"/>
<rect x="1083" y="235" width="1" height="16" fill="#000"/>
<rect x="1081" y="245" width="5" height="4" fill="#000"/>
<rect x="1082" y="246" width="3" height="2" fill="#fff"/>
<rect x="1091" y="223" width="1" height="22" fill="#000"/>
<rect x="1089" y="223" width="5" height="22" fill="#000"/>
<rect x="1090" y="224" width="3" height="20" fill="#fff"/>
<rect x="1099" y="199" width="1" height="26" fill="#000"/>
<rect x="1097" y="199" width="5" height="24" fill="#000"/>
<rect x="1098" y="200" width="3" height="22" fill="#fff"/>
<rect x="1107" y="197" width="1" height="15" fill="#000"/>
<rect x="1105" y="199" width="5" height="4" fill="#000"/>
<rect x="1115" y="153" width="1" height="52" fill="#000"/>
<rect x="1113" y="165" width="5" height="39" fill="#000"/>
<rect x="1114" y="166" width="3" height="37" fill="#fff"/>
<rect x="1123" y="155" width="1" height="4" fill="#000"/>
<rect x="1121" y="156" width="5" height="3" fill="#000"/>
<rect x="1122" y="157" width="3" height="1" fill="#fff"/>
<rect x="1131" y="142" width="1" height="25" fill="#000"/>
<rect x="1129" y="143" width="5" height="13" fill="#000"/>
<rect x="1130" y="144" width="3" height="11" fill="#fff"/>
<rect x="1139" y="139" width="1" height="24" fill="#000"/>
<rect x="1137" y="143" width="5" height="9" fill="#000"/>
<rect x="1147" y="146" width="1" height="35" fill="#000"/>
<rect x="1145" y="152" width="5" height="29" fill="#000"/>
<rect x="1155" y="173" width="1" height="84" fill="#000"/>
<rect x="1153" y="179" width="5" height="65" fill="#000"/>
<rect x="1163" y="216" width="1" height="41" fill="#000"/>
<rect x="1161" y="235" width="5" height="8" fill="#000"/>
<rect x="1162" y="236" width="3" height="6" fill="#fff"/>
<rect x="1171" y="245" width="1" height="8" fill="#000"/>
<rect x="1169" y="246" width="5" height="4" fill="#000"/>
<rect x="1179" y="211" width="1" height="69" fill="#000"/>
<rect x="1177" y="211" width="5" height="39" fill="#000"/>
<rect x="1178" y="212" width="3" height="37" fill="#fff"/>
<rect x="1187" y="178" width="1" height="46" fill="#000"/>
<rect x="1185" y="202" width="5" height="9" fill="#000"/>
<rect x="1186" y="203" width="3" height="7" fill="#fff"/>
<rect x="1195" y="191" width="1" height="29" fill="#000"/>
<rect x="1193" y="202" width="5" height="18" fill="#000"/>
<rect x="1203" y="208" width="1" height="24" fill="#000"/>
<rect x="1201" y="210" width="5" height="10" fill="#000"/>
<rect x="1202" y="211" width="3" height="8" fill="#fff"/>
<rect x="1211" y="199" width="1" height="37" fill="#000"/>
<rect x="1209" y="210" width="5" height="25" fill="#000"/>
<rect x="1219" y="237" width="1" height="7" fill="#000"/>
<rect x="1217" y="237" width="5" height="1" fill="#000"/>
<rect x="1227" y="209" width="1" height="32" fill="#000"/>
<rect x="1225" y="210" width="5" height="29" fill="#000"/>
<rect x="1226" y="211" width="3" height="27" fill="#fff"/>
<rect x="1235" y="200" width="1" height="36" fill="#000"/>
<rect x="1233" y="211" width="5" height="5" fill="#000"/>
<rect x="1243" y="208" width="1" height="45" fill="#000"/>
<rect x="1241" y="215" width="5" height="32" fill="#000"/>
<rect x="1251" y="229" width="1" height="31" fill="#000"/>
<rect x="1249" y="235" width="5" height="10" fill="#000"/>
<rect x="1250" y="236" width="3" height="8" fill="#fff"/>
<rect x="1259" y="229" width="1" height="38" fill="#000"/>
<rect x="1257" y="235" width="5" height="27" fill="#000"/>
<rect x="1267" y="263" width="1" height="7" fill="#000"/>
<rect x="1265" y="266" width="5" height="1" fill="#000"/>
<rect x="1275" y="231" width="1" height="37" fill="#000"/>
<rect x="1273" y="234" width="5" height="31" fill="#000"/>
<rect x="1274" y="235" width="3" height="29" fill="#fff"/>
<rect x="1283" y="224" width="1" height="22" fill="#000"/>
<rect x="1281" y="231" width="5" height="4" fill="#000"/>
<rect x="1282" y="232" width="3" height="2" fill="#fff"/>
<rect x="1291" y="218" width="1" height="25" fill="#000"/>
<rect x="1289" y="231" width="5" height="1" fill="#000"/>
<rect x="1299" y="210" width="1" height="27" fill="#000"/>
<rect x="1297" y="226" width="5" height="8" fill="#000"/>
<rect x="1298" y="227" width="3" height="6" fill="#fff"/>
<rect x="1307" y="219" width="1" height="21" fill="#000"/>
<rect x="1305" y="225" width="5" height="7" fill="#000"/>
<rect x="1315" y="222" width="1" height="3" fill="#000"/>
<rect x="1313" y="222" width="5" height="3" fill="#000"/>
<rect x="1314" y="223" width="3" height="1" fill="#fff"/>
<rect x="1323" y="202" width="1" height="20" fill="#000"/>
<rect x="1321" y="205" width="5" height="17" fill="#000"/>
<rect x="1322" y="206" width="3" height="15" fill="#fff"/>
<rect x="1331" y="201" width="1" height="25" fill="#000"/>
<rect x="1329" y="205" width="5" height="18" fill="#000"/>
<rect x="1339" y="212" width="1" height="18" fill="#000"/>
<rect x="1337" y="215" width="5" height="8" fill="#000"/>
<rect x="1338" y="216" width="3" height="6" fill="#fff"/>
<rect x="1347" y="214" width="1" height="28" fill="#000"/>
<rect x="1345" y="214" width="5" height="15" fill="#000"/>
<rect x="1355" y="215" width="1" height="32" fill="#000"/>
<rect x="1353" y="215" width="5" height="13" fill="#000"/>
<rect x="1354" y="216" width="3" height="11" fill="#fff"/>
<rect x="1363" y="207" width="1" height="4" fill="#000"/>
<rect x="1361" y="208" width="5" height="3" fill="#000"/>
<rect x="1371" y="190" width="1" height="28" fill="#000"/>
<rect x="1369" y="210" width="5" height="3" fill="#000"/>
<rect x="1379" y="176" width="1" height="44" fill="#000"/>
<rect x="1377" y="179" width="5" height="34" fill="#000"/>
<rect x="1378" y="180" width="3" height="32" fill="#fff"/>
<rect x="1387" y="165" width="1" height="23" fill="#000"/>
<rect x="1385" y="179" width="5" height="1" fill="#000"/>
<rect x="1395" y="179" width="1" height="14" fill="#000"/>
<rect x="1393" y="179" width="5" height="7" fill="#000"/>
<rect x="1403" y="180" width="1" height="11" fill="#000"/>
<rect x="1401" y="185" width="5" height="6" fill="#000"/>
<rect x="1411" y="186" width="1" height="3" fill="#000"/>
<rect x="1409" y="186" width="5" height="3" fill="#000"/>
<rect x="1410" y="187" width="3" height="1" fill="#fff"/>
<rect x="1419" y="184" width="1" height="15" fill="#000"/>
<rect x="1417" y="186" width="5" height="1" fill="#000"/>
<rect x="1427" y="172" width="1" height="15" fill="#000"/>
<rect x="1425" y="178" width="5" height="8" fill="#000"/>
<rect x="1426" y="179" width="3" height="6" fill="#fff"/>
<rect x="1435" y="171" width="1" height="19" fill="#000"/>
<rect x="1433" y="175" width="5" height="3" fill="#000"/>
<rect x="1434" y="176" width="3" height="1" fill="#fff"/>
<rect x="1443" y="165" width="1" height="29" fill="#000"/>
<rect x="1441" y="175" width="5" height="14" fill="#000"/>
<rect x="1451" y="186" width="1" height="14" fill="#000"/>
<rect x="1449" y="188" width="5" height="12" fill="#000"/>
<rect x="1459" y="198" width="1" height="6" fill="#000"/>
<rect x="1457" y="200" width="5" height="1" fill="#000"/>
<rect x="1467" y="189" width="1" height="11" fill="#000"/>
<rect x="1465" y="190" width="5" height="10" fill="#000"/>
<rect x="1466" y="191" width="3" height="8" fill="#fff"/>
<rect x="1475" y="186" width="1" height="17" fill="#000"/>
<rect x="1473" y="190" width="5" height="10" fill="#000"/>
<rect x="1483" y="191" width="1" height="14" fill="#000"/>
<rect x="1481" y="194" width="5" height="6" fill="#000"/>
<rect x="1482" y="195" width="3" height="4" fill="#fff"/>
<rect x="1491" y="193" width="1" height="26" fill="#000"/>
<rect x="1489" y="194" width="5" height="1" fill="#000"/>
<rect x="1499" y="195" width="1" height="24" fill="#000"/>
<rect x="1497" y="195" width="5" height="3" fill="#000"/>
<rect x="1507" y="198" width="1" height="3" fill="#000"/>
<rect x="1505" y="199" width="5" height="2" fill="#000"/>
<rect x="1515" y="187" width="1" height="18" fill="#000"/>
<rect x="1513" y="188" width="5" height="12" fill="#000"/>
<rect x="1514" y="189" width="3" height="10" fill="#fff"/>
<rect x="1523" y="179" width="1" height="14" fill="#000"/>
<rect x="1521" y="180" width="5" height="8" fill="#000"/>
<rect x="1522" y="181" width="3" height="6" fill="#fff"/>
<rect x="1531" y="163" width="1" height="21" fill="#000"/>
<rect x="1529" y="164" width="5" height="16" fill="#000"/>
<rect x="1530" y="165" width="3" height="14" fill="#fff"/>
<rect x="1539" y="154" width="1" height="17" fill="#000"/>
<rect x="1537" y="156" width="5" height="8" fill="#000"/>
<rect x="1538" y="157" width="3" height="6" fill="#fff"/>
<rect x="1547" y="151" width="1" height="13" fill="#000"/>
<rect x="1545" y="153" width="5" height="3" fill="#000"/>
<rect x="1546" y="154" width="3" height="1" fill="#fff"/>
<rect x="1555" y="153" width="1" height="2" fill="#000"/>
<rect x="1553" y="153" width="5" height="3" fill="#000"/>
<rect x="1554" y="154" width="3" height="1" fill="#fff"/>
<rect x="1563" y="135" width="1" height="19" fill="#000"/>
<rect x="1561" y="136" width="5" height="18" fill="#000"/>
<rect x="1562" y="137" width="3" height="16" fill="#fff"/>
<rect x="1571" y="119" width="1" height="25" fill="#000"/>
<rect x="1569" y="136" width="5" height="2" fill="#000"/>
<rect x="1579" y="120" width="1" height="21" fill="#000"/>
<rect x="1577" y="131" width="5" height="6" fill="#000"/>
<rect x="1578" y="132" width="3" height="4" fill="#fff"/>
<rect x="1587" y="127" width="1" height="9" fill="#000"/>
<rect x="1585" y="127" width="5" height="4" fill="#000"/>
<rect x="1586" y="128" width="3" height="2" fill="#fff"/>
<rect x="1595" y="128" width="1" height="13" fill="#000"/>
<rect x="1593" y="131" width="5" height="2" fill="#000"/>
<rect x="1603" y="130" width="1" height="6" fill="#000"/>
<rect x="1601" y="131" width="5" height="3" fill="#000"/>
<rect x="1602" y="132" width="3" height="1" fill="#fff"/>
<rect x="1611" y="129" width="1" height="6" fill="#000"/>
<rect x="1609" y="131" width="5" height="2" fill="#000"/>
<rect x="1619" y="131" width="1" height="8" fill="#000"/>
<rect x="1617" y="131" width="5" height="4" fill="#000"/>
<rect x="1627" y="131" width="1" height="11" fill="#000"/>
<rect x="1625" y="134" width="5" height="8" fill="#000"/>
<rect x="1635" y="133" width="1" height="18" fill="#000"/>
<rect x="1633" y="134" width="5" height="8" fill="#000"/>
<rect x="1634" y="135" width="3" height="6" fill="#fff"/>
<rect x="1643" y="130" width="1" height="17" fill="#000"/>
<rect x="1641" y="131" width="5" height="3" fill="#000"/>
<rect x="1642" y="132" width="3" height="1" fill="#fff"/>
<rect x="1651" y="125" width="1" height="6" fill="#000"/>
<rect x="1649" y="127" width="5" height="4" fill="#000"/>
<rect x="1650" y="128" width="3" height="2" fill="#fff"/>
<rect x="1659" y="110" width="1" height="16" fill="#000"/>
<rect x="1657" y="110" width="5" height="16" fill="#000"/>
<rect x="1658" y="111" width="3" height="14" fill="#fff"/>
<rect x="1667" y="100" width="1" height="21" fill="#000"/>
<rect x="1665" y="110" width="5" height="4" fill="#000"/>
<rect x="89" y="110" width="5" height="1" fill="#000"/><rect x="91" y="104" width="1" height="10" fill="#000"/>
<rect x="97" y="110" width="5" height="1" fill="#000"/><rect x="99" y="104" width="1" height="15" fill="#000"/>
</g>
</svg>
<g>
<rect x="3" y="632" width="1" height="9" fill="#c0c0c0"/>
<rect x="11" y="631" width="1" height="10" fill="#c0c0c0"/>
<rect x="19" y="631" width="1" height="10" fill="#c0c0c0"/>
<rect x="27" y="631" width="1" height="10" fill="#c0c0c0"/>
<rect x="35" y="631" width="1" height="10" fill="#c0c0c0"/>
<rect x="43" y="632" width="1" height="9" fill="#c0c0c0"/>
<rect x="51" y="632" width="1" height="9" fill="#c0c0c0"/>
<rect x="59" y="631" width="1" height="10" fill="#c0c0c0"/>
<rect x="67" y="631" width="1" height="10" fill="#c0c0c0"/>
<rect x="75" y="632" width="1" height="9" fill="#c0c0c0"/>
<rect x="83" y="632" width="1" height="9" fill="#c0c0c0"/>
<rect x="91" y="634" width="1" height="7" fill="#c0c0c0"/>
<rect x="99" y="634" width="1" height="7" fill="#c0c0c0"/>
<rect x="107" y="633" width="1" height="8" fill="#c0c0c0"/>
<rect x="115" y="633" width="1" height="8" fill="#c0c0c0"/>
<rect x="123" y="633" width="1" height="8" fill="#c0c0c0"/>
<rect x="131" y="632" width="1" height="9" fill="#c0c0c0"/>
<rect x="139" y="632" width="1" height="9" fill="#c0c0c0"/>
<rect x="147" y="631" width="1" height="10" fill="#c0c0c0"/>
<rect x="155" y="629" width="1" height="12" fill="#c0c0c0"/>
<rect x="163" y="628" width="1" height="13" fill="#c0c0c0"/>
<rect x="171" y="627" width="1" height="14" fill="#c0c0c0"/>
<rect x="179" y="627" width="1" height="14" fill="#c0c0c0"/>
<rect x="187" y="627" width="1" height="14" fill="#c0c0c0"/>
<rect x="195" y="628" width="1" height="13" fill="#c0c0c0"/>
<rect x="203" y="628" width="1" height="13" fill="#c0c0c0"/>
<rect x="211" y="630" width="1" height="11" fill="#c0c0c0"/>
<rect x="219" y="633" width="1" height="8" fill="#c0c0c0"/>
<rect x="227" y="635" width="1" height="6" fill="#c0c0c0"/>
<rect x="235" y="637" width="1" height="4" fill="#c0c0c0"/>
<rect x="243" y="638" width="1" height="3" fill="#c0c0c0"/>
<rect x="251" y="638" width="1" height="3" fill="#c0c0c0"/>
<rect x="259" y="640" width="1" height="1" fill="#c0c0c0"/>
<rect x="267" y="640" width="1" height="2" fill="#c0c0c0"/>
<rect x="275" y="640" width="1" height="4" fill="#c0c0c0"/>
<rect x="283" y="640" width="1" height="3" fill="#c0c0c0"/>
<rect x="291" y="640" width="1" height="1" fill="#c0c0c0"/>
<rect x="299" y="639" width="1" height="2" fill="#c0c0c0"/>
<rect x="307" y="638" width="1" height="3" fill="#c0c0c0"/>
<rect x="315" y="638" width="1" height="3" fill="#c0c0c0"/>
<rect x="323" y="637" width="1" height="4" fill="#c0c0c0"/>
<rect x="331" y="636" width="1" height="5" fill="#c0c0c0"/>
<rect x="339" y="635" width="1" height="6" fill="#c0c0c0"/>
<rect x="347" y="634" width="1" height="7" fill="#c0c0c0"/>
<rect x="355" y="633" width="1" height="8" fill="#c0c0c0"/>
<rect x="363" y="633" width="1" height="8" fill="#c0c0c0"/>
<rect x="371" y="633" width="1" height="8" fill="#c0c0c0"/>
<rect x="379" y="633" width="1" height="8" fill="#c0c0c0"/>
<rect x="387" y="633" width="1" height="8" fill="#c0c0c0"/>
<rect x="395" y="634" width="1" height="7" fill="#c0c0c0"/>
<rect x="403" y="636" width="1" height="5" fill="#c0c0c0"/>
<rect x="411" y="638" width="1" height="3" fill="#c0c0c0"/>
<rect x="419" y="640" width="1" height="2" fill="#c0c0c0"/>
<rect x="427" y="640" width="1" height="8" fill="#c0c0c0"/>
<rect x="435" y="640" width="1" height="13" fill="#c0c0c0"/>
<rect x="443" y="640" width="1" height="22" fill="#c0c0c0"/>
<rect x="451" y="640" width="1" height="29" fill="#c0c0c0"/>
<rect x="459" y="640" width="1" height="36" fill="#c0c0c0"/>
<rect x="467" y="640" width="1" height="35" fill="#c0c0c0"/>
<rect x="475" y="640" width="1" height="37" fill="#c0c0c0"/>
<rect x="483" y="640" width="1" height="34" fill="#c0c0c0"/>
<rect x="491" y="640" width="1" height="34" fill="#c0c0c0"/>
<rect x="499" y="640" width="1" height="35" fill="#c0c0c0"/>
<rect x="507" y="640" width="1" height="40" fill="#c0c0c0"/>
<rect x="515" y="640" width="1" height="44" fill="#c0c0c0"/>
<rect x="523" y="640" width="1" height="46" fill="#c0c0c0"/>
<rect x="531" y="640" width="1" height="50" fill="#c0c0c0"/>
<rect x="539" y="640" width="1" height="63" fill="#c0c0c0"/>
<rect x="547" y="640" width="1" height="64" fill="#c0c0c0"/>
<rect x="555" y="640" width="1" height="68" fill="#c0c0c0"/>
<rect x="563" y="640" width="1" height="75" fill="#c0c0c0"/>
<rect x="571" y="640" width="1" height="81" fill="#c0c0c0"/>
<rect x="579" y="640" width="1" height="85" fill="#c0c0c0"/>
<rect x="587" y="640" width="1" height="89" fill="#c0c0c0"/>
<rect x="595" y="640" width="1" height="94" fill="#c0c0c0"/>
<rect x="603" y="640" width="1" height="99" fill="#c0c0c0"/>
<rect x="611" y="640" width="1" height="100" fill="#c0c0c0"/>
<rect x="619" y="640" width="1" height="93" fill="#c0c0c0"/>
<rect x="627" y="640" width="1" height="85" fill="#c0c0c0"/>
<rect x="635" y="640" width="1" height="73" fill="#c0c0c0"/>
<rect x="643" y="640" width="1" height="66" fill="#c0c0c0"/>
<rect x="651" y="640" width="1" height="61" fill="#c0c0c0"/>
<rect x="659" y="640" width="1" height="53" fill="#c0c0c0"/>
<rect x="667" y="640" width="1" height="48" fill="#c0c0c0"/>
<rect x="675" y="640" width="1" height="46" fill="#c0c0c0"/>
<rect x="683" y="640" width="1" height="43" fill="#c0c0c0"/>
<rect x="691" y="640" width="1" height="41" fill="#c0c0c0"/>
<rect x="699" y="640" width="1" height="37" fill="#c0c0c0"/>
<rect x="707" y="640" width="1" height="30" fill="#c0c0c0"/>
<rect x="715" y="640" width="1" height="24" fill="#c0c0c0"/>
<rect x="723" y="640" width="1" height="16" fill="#c0c0c0"/>
<rect x="731" y="640" width="1" height="8" fill="#c0c0c0"/>
<rect x="739" y="640" width="1" height="3" fill="#c0c0c0"/>
<rect x="747" y="639" width="1" height="2" fill="#c0c0c0"/>
<rect x="755" y="635" width="1" height="6" fill="#c0c0c0"/>
<rect x="763" y="633" width="1" height="8" fill="#c0c0c0"/>
<rect x="771" y="629" width="1" height="12" fill="#c0c0c0"/>
<rect x="779" y="626" width="1" height="15" fill="#c0c0c0"/>
<rect x="787" y="624" width="1" height="17" fill="#c0c0c0"/>
<rect x="795" y="624" width="1" height="17" fill="#c0c0c0"/>
<rect x="803" y="627" width="1" height="14" fill="#c0c0c0"/>
<rect x="811" y="628" width="1" height="13" fill="#c0c0c0"/>
<rect x="819" y="629" width="1" height="12" fill="#c0c0c0"/>
<rect x="827" y="628" width="1" height="13" fill="#c0c0c0"/>
<rect x="835" y="628" width="1" height="13" fill="#c0c0c0"/>
<rect x="843" y="627" width="1" height="14" fill="#c0c0c0"/>
<rect x="851" y="626" width="1" height="15" fill="#c0c0c0"/>
<rect x="859" y="623" width="1" height="18" fill="#c0c0c0"/>
<rect x="867" y="623" width="1" height="18" fill="#c0c0c0"/>
<rect x="875" y="625" width="1" height="16" fill="#c0c0c0"/>
<rect x="883" y="628" width="1" height="13" fill="#c0c0c0"/>
<rect x="891" y="629" width="1" height="12" fill="#c0c0c0"/>
<rect x="899" y="629" width="1" height="12" fill="#c0c0c0"/>
<rect x="907" y="631" width="1" height="10" fill="#c0c0c0"/>
<rect x="915" y="630" width="1" height="11" fill="#c0c0c0"/>
<rect x="923" y="629" width="1" height="12" fill="#c0c0c0"/>
<rect x="931" y="628" width="1" height="13" fill="#c0c0c0"/>
<rect x="939" y="628" width="1" height="13" fill="#c0c0c0"/>
<rect x="947" y="631" width="1" height="10" fill="#c0c0c0"/>
<rect x="955" y="634" width="1" height="7" fill="#c0c0c0"/>
<rect x="963" y="635" width="1" height="6" fill="#c0c0c0"/>
<rect x="971" y="636" width="1" height="5" fill="#c0c0c0"/>
<rect x="979" y="636" width="1" height="5" fill="#c0c0c0"/>
<rect x="987" y="633" width="1" height="8" fill="#c0c0c0"/>
<rect x="995" y="632" width="1" height="9" fill="#c0c0c0"/>
<rect x="1003" y="631" width="1" height="10" fill="#c0c0c0"/>
<rect x="1011" y="630" width="1" height="11" fill="#c0c0c0"/>
<rect x="1019" y="629" width="1" height="12" fill="#c0c0c0"/>
<rect x="1027" y="629" width="1" height="12" fill="#c0c0c0"/>
<rect x="1035" y="628" width="1" height="13" fill="#c0c0c0"/>
<rect x="1043" y="626" width="1" height="15" fill="#c0c0c0"/>
<rect x="1051" y="623" width="1" height="18" fill="#c0c0c0"/>
<rect x="1059" y="621" width="1" height="20" fill="#c0c0c0"/>
<rect x="1067" y="620" width="1" height="21" fill="#c0c0c0"/>
<rect x="1075" y="620" width="1" height="21" fill="#c0c0c0"/>
<rect x="1083" y="620" width="1" height="21" fill="#c0c0c0"/>
<rect x="1091" y="618" width="1" height="23" fill="#c0c0c0"/>
<rect x="1099" y="615" width="1" height="26" fill="#c0c0c0"/>
<rect x="1107" y="614" width="1" height="27" fill="#c0c0c0"/>
<rect x="1115" y="610" width="1" height="31" fill="#c0c0c0"/>
<rect x="1123" y="607" width="1" height="34" fill="#c0c0c0"/>
<rect x="1131" y="603" width="1" height="38" fill="#c0c0c0"/>
<rect x="1139" y="602" width="1" height="39" fill="#c0c0c0"/>
<rect x="1147" y="603" width="1" height="38" fill="#c0c0c0"/>
<rect x="1155" y="610" width="1" height="31" fill="#c0c0c0"/>
<rect x="1163" y="614" width="1" height="27" fill="#c0c0c0"/>
<rect x="1171" y="620" width="1" height="21" fill="#c0c0c0"/>
<rect x="1179" y="621" width="1" height="20" fill="#c0c0c0"/>
<rect x="1187" y="621" width="1" height="20" fill="#c0c0c0"/>
<rect x="1195" y="623" width="1" height="18" fill="#c0c0c0"/>
<rect x="1203" y="624" width="1" height="17" fill="#c0c0c0"/>
<rect x="1211" y="627" width="1" height="14" fill="#c0c0c0"/>
<rect x="1219" y="630" width="1" height="11" fill="#c0c0c0"/>
<rect x="1227" y="630" width="1" height="11" fill="#c0c0c0"/>
<rect x="1235" y="630" width="1" height="11" fill="#c0c0c0"/>
<rect x="1243" y="633" width="1" height="8" fill="#c0c0c0"/>
<rect x="1251" y="635" width="1" height="6" fill="#c0c0c0"/>
<rect x="1259" y="638" width="1" height="3" fill="#c0c0c0"/>
<rect x="1267" y="640" width="1" height="1" fill="#c0c0c0"/>
<rect x="1275" y="640" width="1" height="1" fill="#c0c0c0"/>
<rect x="1283" y="640" width="1" height="1" fill="#c0c0c0"/>
<rect x="1299" y="640" width="1" height="1" fill="#c0c0c0"/>
<rect x="1307" y="640" width="1" height="1" fill="#c0c0c0"/>
<rect x="1315" y="639" width="1" height="2" fill="#c0c0c0"/>
<rect x="1323" y="637" width="1" height="4" fill="#c0c0c0"/>
<rect x="1331" y="637" width="1" height="4" fill="#c0c0c0"/>
<rect x="1339" y="636" width="1" height="5" fill="#c0c0c0"/>
<rect x="1347" y="637" width="1" height="4" fill="#c0c0c0"/>
<rect x="1355" y="636" width="1" height="5" fill="#c0c0c0"/>
<rect x="1363" y="635" width="1" height="6" fill="#c0c0c0"/>
<rect x="1371" y="635" width="1" height="6" fill="#c0c0c0"/>
<rect x="1379" y="632" width="1" height="9" fill="#c0c0c0"/>
<rect x="1387" y="630" width="1" height="11" fill="#c0c0c0"/>
<rect x="1395" y="629" width="1" height="12" fill="#c0c0c0"/>
<rect x="1403" y="629" width="1" height="12" fill="#c0c0c0"/>
<rect x="1411" y="628" width="1" height="13" fill="#c0c0c0"/>
<rect x="1419" y="628" width="1" height="13" fill="#c0c0c0"/>
<rect x="1427" y="628" width="1" height="13" fill="#c0c0c0"/>
<rect x="1435" y="627" width="1" height="14" fill="#c0c0c0"/>
<rect x="1443" y="628" width="1" height="13" fill="#c0c0c0"/>
<rect x="1451" y="629" width="1" height="12" fill="#c0c0c0"/>
<rect x="1459" y="631" width="1" height="10" fill="#c0c0c0"/>
<rect x="1467" y="631" width="1" height="10" fill="#c0c0c0"/>
<rect x="1475" y="632" width="1" height="9" fill="#c0c0c0"/>
<rect x="1483" y="633" width="1" height="8" fill="#c0c0c0"/>
<rect x="1491" y="633" width="1" height="8" fill="#c0c0c0"/>
<rect x="1499" y="634" width="1" height="7" fill="#c0c0c0"/>
<rect x="1507" y="635" width="1" height="6" fill="#c0c0c0"/>
<rect x="1515" y="635" width="1" height="6" fill="#c0c0c0"/>
<rect x="1523" y="634" width="1" height="7" fill="#c0c0c0"/>
<rect x="1531" y="632" width="1" height="9" fill="#c0c0c0"/>
<rect x="1539" y="630" width="1" height="11" fill="#c0c0c0"/>
<rect x="1547" y="629" width="1" height="12" fill="#c0c0c0"/>
<rect x="1555" y="628" width="1" height="13" fill="#c0c0c0"/>
<rect x="1563" y="626" width="1" height="15" fill="#c0c0c0"/>
<rect x="1571" y="624" width="1" height="17" fill="#c0c0c0"/>
<rect x="1579" y="623" width="1" height="18" fill="#c0c0c0"/>
<rect x="1587" y="622" width="1" height="19" fill="#c0c0c0"/>
<rect x="1595" y="621" width="1" height="20" fill="#c0c0c0"/>
<rect x="1603" y="621" width="1" height="20" fill="#c0c0c0"/>
<rect x="1611" y="622" width="1" height="19" fill="#c0c0c0"/>
<rect x="1619" y="622" width="1" height="19" fill="#c0c0c0"/>
<rect x="1627" y="623" width="1" height="18" fill="#c0c0c0"/>
<rect x="1635" y="624" width="1" height="17" fill="#c0c0c0"/>
<rect x="1643" y="624" width="1" height="17" fill="#c0c0c0"/>
<rect x="1651" y="624" width="1" height="17" fill="#c0c0c0"/>
<rect x="1659" y="623" width="1" height="18" fill="#c0c0c0"/>
<rect x="1667" y="623" width="1" height="18" fill="#c0c0c0"/>
<polyline points="-4.5,632.3 3.5,632.3 11.5,632.2 19.5,632.0 27.5,631.8 35.5,631.7 43.5,631.7 51.5,631.6 59.5,631.5 67.5,631.3 75.5,631.4 83.5,631.5 91.5,631.8 99.5,632.2 107.5,632.3 115.5,632.5 123.5,632.5 131.5,632.7 139.5,632.9 147.5,632.8 155.5,632.4 163.5,631.7 171.5,631.0 179.5,630.3 187.5,629.6 195.5,629.1 203.5,628.7 211.5,628.4 219.5,628.6 227.5,629.3 235.5,630.2 243.5,631.4 251.5,632.7 259.5,634.2 267.5,635.8 275.5,637.5 283.5,638.9 291.5,639.8 299.5,640.2 307.5,640.3 315.5,640.4 323.5,640.3 331.5,639.8 339.5,638.9 347.5,637.9 355.5,636.8 363.5,636.0 371.5,635.4 379.5,634.9 387.5,634.3 395.5,634.0 403.5,634.0 411.5,634.3 419.5,635.1 427.5,636.7 435.5,639.0 443.5,642.2 451.5,646.2 459.5,650.9 467.5,655.4 475.5,660.0 483.5,664.0 491.5,667.6 499.5,670.7 507.5,673.6 515.5,676.0 523.5,677.9 531.5,679.5 539.5,682.6 547.5,685.7 555.5,689.4 563.5,694.0 571.5,699.1 579.5,704.1 587.5,709.2 595.5,714.5 603.5,719.9 611.5,724.0 619.5,727.3 627.5,729.1 635.5,728.9 643.5,727.2 651.5,724.5 659.5,720.4 667.5,715.3 675.5,709.4 683.5,703.1 691.5,697.2 699.5,691.9 707.5,687.1 715.5,682.4 723.5,677.4 731.5,672.4 739.5,667.4 747.5,662.3 755.5,656.9 763.5,651.7 771.5,646.3 779.5,641.4 787.5,637.1 795.5,633.6 803.5,631.2 811.5,629.5 819.5,628.2 827.5,627.5 835.5,626.9 843.5,626.7 851.5,626.7 859.5,626.6 867.5,626.5 875.5,626.3 883.5,626.3 891.5,626.3 899.5,626.5 907.5,626.7 915.5,627.1 923.5,627.5 931.5,628.0 939.5,628.5 947.5,629.1 955.5,629.7 963.5,630.4 971.5,631.1 979.5,631.7 987.5,632.0 995.5,632.4 1003.5,632.8 1011.5,633.0 1019.5,632.8 1027.5,632.3 1035.5,631.5 1043.5,630.4 1051.5,629.0 1059.5,627.6 1067.5,626.2 1075.5,625.0 1083.5,623.8 1091.5,622.6 1099.5,621.1 1107.5,619.6 1115.5,617.8 1123.5,616.0 1131.5,614.0 1139.5,612.0 1147.5,610.2 1155.5,609.1 1163.5,608.7 1171.5,609.2 1179.5,610.0 1187.5,611.2 1195.5,613.1 1203.5,615.5 1211.5,618.3 1219.5,621.2 1227.5,623.5 1235.5,625.2 1243.5,626.8 1251.5,628.3 1259.5,630.2 1267.5,632.2 1275.5,634.0 1283.5,635.5 1291.5,636.6 1299.5,637.7 1307.5,638.7 1315.5,639.3 1323.5,639.5 1331.5,639.4 1339.5,638.8 1347.5,638.4 1355.5,637.9 1363.5,637.3 1371.5,636.8 1379.5,636.0 1387.5,635.1 1395.5,634.2 1403.5,633.4 1411.5,632.5 1419.5,631.6 1427.5,630.6 1435.5,629.7 1443.5,628.8 1451.5,628.5 1459.5,628.5 1467.5,628.7 1475.5,629.1 1483.5,629.6 1491.5,630.1 1499.5,630.8 1507.5,631.7 1515.5,632.5 1523.5,633.0 1531.5,633.2 1539.5,633.1 1547.5,632.8 1555.5,632.2 1563.5,631.3 1571.5,630.3 1579.5,628.9 1587.5,627.5 1595.5,626.1 1603.5,624.9 1611.5,623.9 1619.5,623.2 1627.5,622.7 1635.5,622.5 1643.5,622.5 1651.5,622.7 1659.5,622.8 1667.5,623.0" fill="none" stroke="#ff0000" stroke-width="1" stroke-dasharray="3 3" shape-rendering="crispEdges"/>
</g>
<line x1="0" y1="787.5" x2="1688" y2="787.5" stroke="#c0c0c0" stroke-width="1" stroke-dasharray="3 3" shape-rendering="crispEdges"/>
<line x1="0" y1="838.5" x2="1688" y2="838.5" stroke="#c0c0c0" stroke-width="1" stroke-dasharray="3 3" shape-rendering="crispEdges"/>
<line x1="0" y1="899.5" x2="1688" y2="899.5" stroke="#c0c0c0" stroke-width="1" stroke-dasharray="3 3" shape-rendering="crispEdges"/>
<polyline points="-4.5,809.0 3.5,807.6 11.5,802.8 19.5,803.8 27.5,801.8 35.5,821.2 43.5,816.6 51.5,815.4 59.5,800.4 67.5,823.3 75.5,830.3 83.5,824.7 91.5,844.5 99.5,824.5 107.5,819.8 115.5,827.8 123.5,826.4 131.5,822.6 139.5,826.4 147.5,815.4 155.5,809.7 163.5,810.7 171.5,809.7 179.5,811.1 187.5,818.6 195.5,826.4 203.5,822.6 211.5,839.3 219.5,847.6 227.5,851.0 235.5,844.9 243.5,843.2 251.5,840.5 259.5,858.7 267.5,856.9 275.5,854.0 283.5,838.8 291.5,824.1 299.5,820.8 307.5,832.3 315.5,836.5 323.5,827.4 331.5,828.2 339.5,823.5 347.5,822.9 355.5,822.9 363.5,824.8 371.5,825.9 379.5,828.0 387.5,824.7 395.5,840.7 403.5,843.3 411.5,855.8 419.5,870.8 427.5,883.7 435.5,888.4 443.5,898.5 451.5,899.2 459.5,901.8 467.5,860.3 475.5,869.4 483.5,850.2 491.5,858.1 499.5,862.0 507.5,871.3 515.5,873.9 523.5,869.8 531.5,877.4 539.5,890.5 547.5,863.5 555.5,869.5 563.5,875.3 571.5,877.1 579.5,877.2 587.5,879.9 595.5,882.5 603.5,885.9 611.5,878.8 619.5,859.2 627.5,853.5 635.5,841.5 643.5,848.9 651.5,851.1 659.5,842.1 667.5,847.3 675.5,851.1 683.5,848.9 691.5,850.5 699.5,847.6 707.5,834.9 715.5,836.2 723.5,828.7 731.5,826.5 739.5,830.7 747.5,829.9 755.5,825.7 763.5,833.3 771.5,824.5 779.5,825.0 787.5,827.3 795.5,832.2 803.5,839.0 811.5,835.5 819.5,836.1 827.5,831.4 835.5,832.6 843.5,827.0 851.5,826.5 859.5,820.2 867.5,829.7 875.5,836.0 883.5,840.8 891.5,835.4 899.5,832.9 907.5,838.2 915.5,831.5 923.5,827.0 931.5,825.5 939.5,831.6 947.5,842.8 955.5,845.5 963.5,838.8 971.5,840.6 979.5,837.1 987.5,824.0 995.5,830.6 1003.5,826.4 1011.5,826.9 1019.5,827.3 1027.5,826.2 1035.5,823.5 1043.5,818.4 1051.5,808.5 1059.5,817.3 1067.5,814.8 1075.5,821.4 1083.5,819.9 1091.5,812.6 1099.5,805.8 1107.5,808.2 1115.5,798.8 1123.5,796.9 1131.5,794.2 1139.5,799.9 1147.5,816.3 1155.5,841.9 1163.5,838.8 1171.5,843.9 1179.5,831.0 1187.5,828.4 1195.5,835.0 1203.5,831.7 1211.5,840.7 1219.5,841.7 1227.5,832.0 1235.5,834.3 1243.5,845.2 1251.5,840.8 1259.5,849.6 1267.5,851.1 1275.5,838.8 1283.5,837.7 1291.5,838.1 1299.5,835.8 1307.5,838.3 1315.5,834.2 1323.5,827.5 1331.5,835.9 1339.5,832.6 1347.5,839.0 1355.5,833.1 1363.5,831.4 1371.5,832.4 1379.5,819.0 1387.5,819.6 1395.5,823.1 1403.5,826.1 1411.5,823.9 1419.5,824.5 1427.5,820.3 1435.5,818.9 1443.5,828.9 1451.5,836.1 1459.5,836.7 1467.5,830.1 1475.5,836.9 1483.5,833.2 1491.5,833.9 1499.5,836.2 1507.5,838.5 1515.5,829.3 1523.5,824.2 1531.5,815.2 1539.5,811.3 1547.5,809.8 1555.5,809.8 1563.5,801.8 1571.5,804.0 1579.5,800.8 1587.5,799.1 1595.5,806.2 1603.5,805.1 1611.5,807.6 1619.5,810.2 1627.5,819.0 1635.5,813.3 1643.5,811.3 1651.5,808.6 1659.5,799.0 1667.5,804.3" fill="none" stroke="#1e90ff" stroke-width="1"/>
<rect x="267.5" y="57.5" width="149" height="53" fill="none" stroke="#0000ff" stroke-width="3"/>
<rect x="1374.5" y="116.5" width="73" height="24" fill="#fff" stroke="#ff0000" stroke-width="1"/>
<text x="1375.5" y="137" font-family='"Liberation Sans","Noto Sans CJK SC",sans-serif' font-size="21.5" fill="#ff0000" textLength="70" lengthAdjust="spacingAndGlyphs">27862.1</text>
<g fill="#0000ff" stroke="none" shape-rendering="geometricPrecision">
<polygon points="1496.7,214.6 1576.3,127.0 1578.1,128.6 1580.5,120.0 1572.2,123.2 1573.9,124.8 1494.3,212.4"/>
<polygon points="1580.3,123.4 1622.6,144.6 1620.6,148.5 1634.0,148.5 1626.0,137.8 1624.0,141.7 1581.7,120.6"/>
<polygon points="1635.2,149.1 1676.1,104.4 1679.3,107.4 1683.0,94.5 1670.5,99.3 1673.7,102.3 1632.8,146.9"/>
</g>
<g transform="translate(1487,120.5) scale(1.04,0.86)"><text x="0" y="0" font-family='"Noto Sans CJK SC","WenQuanYi Zen Hei",sans-serif' font-size="22" fill="#00ff00">多空转折点</text></g>
<rect x="1556" y="126" width="122" height="5" fill="#00ff00"/>
<defs><linearGradient id="pg" x1="0" y1="44" x2="0" y2="108" gradientUnits="userSpaceOnUse"><stop offset="0" stop-color="#5c5cfa"/><stop offset="0.38" stop-color="#3a3ae6"/><stop offset="0.40" stop-color="#3232e0"/><stop offset="1" stop-color="#0202a8"/></linearGradient><linearGradient id="bg" x1="0" y1="0" x2="0" y2="1"><stop offset="0" stop-color="#f4f4f4"/><stop offset="0.45" stop-color="#ececec"/><stop offset="0.5" stop-color="#dcdcdc"/><stop offset="1" stop-color="#d4d4d4"/></linearGradient></defs>
<rect x="0" y="40" width="219" height="70" fill="#fff"/>
<path d="M0,44 H50 V68 H107 V108 H0 Z" fill="url(#pg)"/>
<path d="M0,44.5 H49.5 V68" fill="none" stroke="#1010a0" stroke-width="1"/>
<path d="M165,44 H217 V108 H109 V68 H165 Z" fill="url(#pg)"/>
<path d="M165.5,68 V44.5 H216.5 V108" fill="none" stroke="#1010a0" stroke-width="1"/>
<rect x="2" y="67" width="44" height="1" fill="#2222b0"/><rect x="2" y="68" width="44" height="1" fill="#7878f4"/>
<rect x="169" y="67" width="44" height="1" fill="#2222b0"/><rect x="169" y="68" width="44" height="1" fill="#7878f4"/>
<rect x="52.5" y="44.5" width="110" height="21" fill="#fff" stroke="#a8a8a8"/>
<rect x="53.5" y="45.5" width="19" height="19" fill="url(#bg)" stroke="#c8c8c8"/>
<rect x="141.5" y="45.5" width="20" height="19" fill="url(#bg)" stroke="#c8c8c8"/>
<line x1="73.5" y1="45" x2="73.5" y2="65" stroke="#b0b0b0"/><line x1="140.5" y1="45" x2="140.5" y2="65" stroke="#b0b0b0"/>
<path d="M60,52 h6 l-3,3 z" fill="#5a6ad0"/>
<path d="M148,55 h6 l-3,-3 z" fill="#5a6ad0"/>
<text x="137.5" y="59" text-anchor="end" font-family='"Liberation Sans","Noto Sans CJK SC",sans-serif' font-size="12" fill="#000">1.00</text>
<text x="9.6" y="60" font-family='"Liberation Sans","Noto Sans CJK SC",sans-serif' font-size="12.5" fill="#f0f0ff" textLength="27.6" lengthAdjust="spacingAndGlyphs">SELL</text>
<text x="177.9" y="60" font-family='"Liberation Sans","Noto Sans CJK SC",sans-serif' font-size="12.5" fill="#f0f0ff" textLength="25.6" lengthAdjust="spacingAndGlyphs">BUY</text>
<text x="14" y="99" font-family='"Liberation Sans","Noto Sans CJK SC",sans-serif' font-size="12.4" font-weight="bold" fill="#fff" textLength="35.4" lengthAdjust="spacingAndGlyphs">28189</text>
<text x="123.8" y="99" font-family='"Liberation Sans","Noto Sans CJK SC",sans-serif' font-size="12.4" font-weight="bold" fill="#fff" textLength="35.4" lengthAdjust="spacingAndGlyphs">28199</text>
<circle cx="55" cy="97" r="2.4" fill="#fff" shape-rendering="geometricPrecision"/><circle cx="166.5" cy="97" r="2.4" fill="#fff" shape-rendering="geometricPrecision"/>
<g transform="translate(59.6,99) scale(0.92,1)"><text x="0" y="0" font-family='"Liberation Sans","Noto Sans CJK SC",sans-serif' font-size="33.5" fill="#fff">5</text></g>
<g transform="translate(170.6,99) scale(0.92,1)"><text x="0" y="0" font-family='"Liberation Sans","Noto Sans CJK SC",sans-serif' font-size="33.5" fill="#fff">5</text></g>
<rect x="0" y="24" width="1689" height="1" fill="#000"/>
<rect x="1688" y="24" width="1" height="902" fill="#000"/>
<rect x="0" y="591" width="1689" height="1" fill="#000"/>
<rect x="0" y="593" width="1689" height="1" fill="#000"/>
<rect x="0" y="749" width="1689" height="1" fill="#000"/>
<rect x="0" y="751" width="1689" height="1" fill="#000"/>
<rect x="0" y="925" width="1689" height="1" fill="#000"/>
<rect x="1734" y="21" width="1" height="921" fill="#e3e3e3"/>
<rect x="1689" y="27" width="2" height="1" fill="#000"/>
<g transform="translate(1694,30.9) scale(0.95,1)"><text x="0" y="0" font-family='"Liberation Sans","Noto Sans CJK SC",sans-serif' font-size="9.9" fill="#000" stroke="#000" stroke-width="0.12">30076.0</text></g>
<rect x="1689" y="60" width="2" height="1" fill="#000"/>
<g transform="translate(1694,63.9) scale(0.95,1)"><text x="0" y="0" font-family='"Liberation Sans","Noto Sans CJK SC",sans-serif' font-size="9.9" fill="#000" stroke="#000" stroke-width="0.12">29366.5</text></g>
<rect x="1689" y="159" width="2" height="1" fill="#000"/>
<g transform="translate(1694,162.9) scale(0.95,1)"><text x="0" y="0" font-family='"Liberation Sans","Noto Sans CJK SC",sans-serif' font-size="9.9" fill="#000" stroke="#000" stroke-width="0.12">27185.0</text></g>
<rect x="1689" y="193" width="2" height="1" fill="#000"/>
<g transform="translate(1694,196.9) scale(0.95,1)"><text x="0" y="0" font-family='"Liberation Sans","Noto Sans CJK SC",sans-serif' font-size="9.9" fill="#000" stroke="#000" stroke-width="0.12">26464.0</text></g>
<rect x="1689" y="226" width="2" height="1" fill="#000"/>
<g transform="translate(1694,229.9) scale(0.95,1)"><text x="0" y="0" font-family='"Liberation Sans","Noto Sans CJK SC",sans-serif' font-size="9.9" fill="#000" stroke="#000" stroke-width="0.12">25733.0</text></g>
<rect x="1689" y="258" width="2" height="1" fill="#000"/>
<g transform="translate(1694,261.9) scale(0.95,1)"><text x="0" y="0" font-family='"Liberation Sans","Noto Sans CJK SC",sans-serif' font-size="9.9" fill="#000" stroke="#000" stroke-width="0.12">25023.5</text></g>
<rect x="1689" y="291" width="2" height="1" fill="#000"/>
<g transform="translate(1694,294.9) scale(0.95,1)"><text x="0" y="0" font-family='"Liberation Sans","Noto Sans CJK SC",sans-serif' font-size="9.9" fill="#000" stroke="#000" stroke-width="0.12">24292.5</text></g>
<rect x="1689" y="324" width="2" height="1" fill="#000"/>
<g transform="translate(1694,327.9) scale(0.95,1)"><text x="0" y="0" font-family='"Liberation Sans","Noto Sans CJK SC",sans-serif' font-size="9.9" fill="#000" stroke="#000" stroke-width="0.12">23583.0</text></g>
<rect x="1689" y="357" width="2" height="1" fill="#000"/>
<g transform="translate(1694,360.9) scale(0.95,1)"><text x="0" y="0" font-family='"Liberation Sans","Noto Sans CJK SC",sans-serif' font-size="9.9" fill="#000" stroke="#000" stroke-width="0.12">22852.0</text></g>
<rect x="1689" y="390" width="2" height="1" fill="#000"/>
<g transform="translate(1694,393.9) scale(0.95,1)"><text x="0" y="0" font-family='"Liberation Sans","Noto Sans CJK SC",sans-serif' font-size="9.9" fill="#000" stroke="#000" stroke-width="0.12">22121.0</text></g>
<rect x="1689" y="424" width="2" height="1" fill="#000"/>
<g transform="translate(1694,427.9) scale(0.95,1)"><text x="0" y="0" font-family='"Liberation Sans","Noto Sans CJK SC",sans-serif' font-size="9.9" fill="#000" stroke="#000" stroke-width="0.12">21411.5</text></g>
<rect x="1689" y="456" width="2" height="1" fill="#000"/>
<g transform="translate(1694,459.9) scale(0.95,1)"><text x="0" y="0" font-family='"Liberation Sans","Noto Sans CJK SC",sans-serif' font-size="9.9" fill="#000" stroke="#000" stroke-width="0.12">20680.5</text></g>
<rect x="1689" y="489" width="2" height="1" fill="#000"/>
<g transform="translate(1694,492.9) scale(0.95,1)"><text x="0" y="0" font-family='"Liberation Sans","Noto Sans CJK SC",sans-serif' font-size="9.9" fill="#000" stroke="#000" stroke-width="0.12">19949.5</text></g>
<rect x="1689" y="522" width="2" height="1" fill="#000"/>
<g transform="translate(1694,525.9) scale(0.95,1)"><text x="0" y="0" font-family='"Liberation Sans","Noto Sans CJK SC",sans-serif' font-size="9.9" fill="#000" stroke="#000" stroke-width="0.12">19240.0</text></g>
<rect x="1689" y="555" width="2" height="1" fill="#000"/>
<g transform="translate(1694,558.9) scale(0.95,1)"><text x="0" y="0" font-family='"Liberation Sans","Noto Sans CJK SC",sans-serif' font-size="9.9" fill="#000" stroke="#000" stroke-width="0.12">18509.0</text></g>
<rect x="1689" y="587" width="2" height="1" fill="#000"/>
<g transform="translate(1694,590.9) scale(0.95,1)"><text x="0" y="0" font-family='"Liberation Sans","Noto Sans CJK SC",sans-serif' font-size="9.9" fill="#000" stroke="#000" stroke-width="0.12">17799.5</text></g>
<rect x="1690" y="68" width="41" height="11" fill="#ff0000"/>
<g transform="translate(1694,77.2) scale(0.95,1)"><text x="0" y="0" font-family='"Liberation Sans","Noto Sans CJK SC",sans-serif' font-size="9.9" fill="#fff" stroke="#fff" stroke-width="0.12">29043.2</text></g>
<rect x="1690" y="87" width="41" height="11" fill="#ff0000"/>
<g transform="translate(1694,96.2) scale(0.95,1)"><text x="0" y="0" font-family='"Liberation Sans","Noto Sans CJK SC",sans-serif' font-size="9.9" fill="#fff" stroke="#fff" stroke-width="0.12">28627.7</text></g>
<rect x="1690" y="107" width="41" height="11" fill="#000000"/>
<g transform="translate(1694,116.2) scale(0.95,1)"><text x="0" y="0" font-family='"Liberation Sans","Noto Sans CJK SC",sans-serif' font-size="9.9" fill="#fff" stroke="#fff" stroke-width="0.12">28191.0</text></g>
<rect x="1690" y="122" width="41" height="11" fill="#32cd32"/>
<g transform="translate(1694,131.2) scale(0.95,1)"><text x="0" y="0" font-family='"Liberation Sans","Noto Sans CJK SC",sans-serif' font-size="9.9" fill="#fff" stroke="#fff" stroke-width="0.12">27862.1</text></g>
<rect x="1690" y="138" width="41" height="11" fill="#0000ff"/>
<g transform="translate(1694,147.2) scale(0.95,1)"><text x="0" y="0" font-family='"Liberation Sans","Noto Sans CJK SC",sans-serif' font-size="9.9" fill="#fff" stroke="#fff" stroke-width="0.12">27512.1</text></g>
<rect x="1690" y="160" width="41" height="11" fill="#0000ff"/>
<g transform="translate(1694,169.2) scale(0.95,1)"><text x="0" y="0" font-family='"Liberation Sans","Noto Sans CJK SC",sans-serif' font-size="9.9" fill="#fff" stroke="#fff" stroke-width="0.12">27030.9</text></g>
<rect x="1689" y="595" width="2" height="1" fill="#000"/>
<text x="1692" y="604" font-family='"Liberation Sans","Noto Sans CJK SC",sans-serif' font-size="9.35" fill="#000" stroke="#000" stroke-width="0.12">1024.52</text>
<rect x="1689" y="640" width="2" height="1" fill="#000"/>
<text x="1692" y="644" font-family='"Liberation Sans","Noto Sans CJK SC",sans-serif' font-size="9.35" fill="#000" stroke="#000" stroke-width="0.12">0.00</text>
<rect x="1689" y="747" width="2" height="1" fill="#000"/>
<text x="1692" y="746" font-family='"Liberation Sans","Noto Sans CJK SC",sans-serif' font-size="9.35" fill="#000" stroke="#000" stroke-width="0.12">-2433.25</text>
<text x="1692" y="762" font-family='"Liberation Sans","Noto Sans CJK SC",sans-serif' font-size="9.35" fill="#000" stroke="#000" stroke-width="0.12">100</text>
<rect x="1689" y="787" width="2" height="1" fill="#000"/>
<text x="1692" y="791" font-family='"Liberation Sans","Noto Sans CJK SC",sans-serif' font-size="9.35" fill="#000" stroke="#000" stroke-width="0.12">80</text>
<rect x="1689" y="838" width="2" height="1" fill="#000"/>
<text x="1692" y="842" font-family='"Liberation Sans","Noto Sans CJK SC",sans-serif' font-size="9.35" fill="#000" stroke="#000" stroke-width="0.12">50</text>
<rect x="1689" y="899" width="2" height="1" fill="#000"/>
<text x="1692" y="903" font-family='"Liberation Sans","Noto Sans CJK SC",sans-serif' font-size="9.35" fill="#000" stroke="#000" stroke-width="0.12">15</text>
<text x="1692" y="922" font-family='"Liberation Sans","Noto Sans CJK SC",sans-serif' font-size="9.35" fill="#000" stroke="#000" stroke-width="0.12">0</text>
<text x="-1.2" y="938" font-family='"Liberation Sans","Noto Sans CJK SC",sans-serif' font-size="9.2" fill="#000" stroke="#000" stroke-width="0.12">4 Dec 2019</text>
<rect x="59" y="926" width="1" height="3" fill="#000"/>
<text x="58.2" y="938" font-family='"Liberation Sans","Noto Sans CJK SC",sans-serif' font-size="9.2" fill="#000" stroke="#000" stroke-width="0.12">2 Jan 2020</text>
<rect x="123" y="926" width="1" height="3" fill="#000"/>
<text x="122.2" y="938" font-family='"Liberation Sans","Noto Sans CJK SC",sans-serif' font-size="9.2" fill="#000" stroke="#000" stroke-width="0.12">12 Jan 2020</text>
<rect x="187" y="926" width="1" height="3" fill="#000"/>
<text x="186.2" y="938" font-family='"Liberation Sans","Noto Sans CJK SC",sans-serif' font-size="9.2" fill="#000" stroke="#000" stroke-width="0.12">21 Jan 2020</text>
<rect x="251" y="926" width="1" height="3" fill="#000"/>
<text x="250.2" y="938" font-family='"Liberation Sans","Noto Sans CJK SC",sans-serif' font-size="9.2" fill="#000" stroke="#000" stroke-width="0.12">30 Jan 2020</text>
<rect x="315" y="926" width="1" height="3" fill="#000"/>
<text x="314.2" y="938" font-family='"Liberation Sans","Noto Sans CJK SC",sans-serif' font-size="9.2" fill="#000" stroke="#000" stroke-width="0.12">9 Feb 2020</text>
<rect x="379" y="926" width="1" height="3" fill="#000"/>
<text x="378.2" y="938" font-family='"Liberation Sans","Noto Sans CJK SC",sans-serif' font-size="9.2" fill="#000" stroke="#000" stroke-width="0.12">18 Feb 2020</text>
<rect x="443" y="926" width="1" height="3" fill="#000"/>
<text x="442.2" y="938" font-family='"Liberation Sans","Noto Sans CJK SC",sans-serif' font-size="9.2" fill="#000" stroke="#000" stroke-width="0.12">27 Feb 2020</text>
<rect x="507" y="926" width="1" height="3" fill="#000"/>
<text x="506.2" y="938" font-family='"Liberation Sans","Noto Sans CJK SC",sans-serif' font-size="9.2" fill="#000" stroke="#000" stroke-width="0.12">8 Mar 2020</text>
<rect x="571" y="926" width="1" height="3" fill="#000"/>
<text x="570.2" y="938" font-family='"Liberation Sans","Noto Sans CJK SC",sans-serif' font-size="9.2" fill="#000" stroke="#000" stroke-width="0.12">17 Mar 2020</text>
<rect x="635" y="926" width="1" height="3" fill="#000"/>
<text x="634.2" y="938" font-family='"Liberation Sans","Noto Sans CJK SC",sans-serif' font-size="9.2" fill="#000" stroke="#000" stroke-width="0.12">26 Mar 2020</text>
<rect x="699" y="926" width="1" height="3" fill="#000"/>
<text x="698.2" y="938" font-family='"Liberation Sans","Noto Sans CJK SC",sans-serif' font-size="9.2" fill="#000" stroke="#000" stroke-width="0.12">5 Apr 2020</text>
<rect x="763" y="926" width="1" height="3" fill="#000"/>
<text x="762.2" y="938" font-family='"Liberation Sans","Noto Sans CJK SC",sans-serif' font-size="9.2" fill="#000" stroke="#000" stroke-width="0.12">15 Apr 2020</text>
<rect x="827" y="926" width="1" height="3" fill="#000"/>
<text x="826.2" y="938" font-family='"Liberation Sans","Noto Sans CJK SC",sans-serif' font-size="9.2" fill="#000" stroke="#000" stroke-width="0.12">24 Apr 2020</text>
<rect x="891" y="926" width="1" height="3" fill="#000"/>
<text x="890.2" y="938" font-family='"Liberation Sans","Noto Sans CJK SC",sans-serif' font-size="9.2" fill="#000" stroke="#000" stroke-width="0.12">4 May 2020</text>
<rect x="955" y="926" width="1" height="3" fill="#000"/>
<text x="954.2" y="938" font-family='"Liberation Sans","Noto Sans CJK SC",sans-serif' font-size="9.2" fill="#000" stroke="#000" stroke-width="0.12">13 May 2020</text>
<rect x="1019" y="926" width="1" height="3" fill="#000"/>
<text x="1018.2" y="938" font-family='"Liberation Sans","Noto Sans CJK SC",sans-serif' font-size="9.2" fill="#000" stroke="#000" stroke-width="0.12">22 May 2020</text>
<rect x="1083" y="926" width="1" height="3" fill="#000"/>
<text x="1082.2" y="938" font-family='"Liberation Sans","Noto Sans CJK SC",sans-serif' font-size="9.2" fill="#000" stroke="#000" stroke-width="0.12">1 Jun 2020</text>
<rect x="1147" y="926" width="1" height="3" fill="#000"/>
<text x="1146.2" y="938" font-family='"Liberation Sans","Noto Sans CJK SC",sans-serif' font-size="9.2" fill="#000" stroke="#000" stroke-width="0.12">10 Jun 2020</text>
<rect x="1211" y="926" width="1" height="3" fill="#000"/>
<text x="1210.2" y="938" font-family='"Liberation Sans","Noto Sans CJK SC",sans-serif' font-size="9.2" fill="#000" stroke="#000" stroke-width="0.12">19 Jun 2020</text>
<rect x="1275" y="926" width="1" height="3" fill="#000"/>
<text x="1274.2" y="938" font-family='"Liberation Sans","Noto Sans CJK SC",sans-serif' font-size="9.2" fill="#000" stroke="#000" stroke-width="0.12">29 Jun 2020</text>
<rect x="1339" y="926" width="1" height="3" fill="#000"/>
<text x="1338.2" y="938" font-family='"Liberation Sans","Noto Sans CJK SC",sans-serif' font-size="9.2" fill="#000" stroke="#000" stroke-width="0.12">8 Jul 2020</text>
<rect x="1403" y="926" width="1" height="3" fill="#000"/>
<text x="1402.2" y="938" font-family='"Liberation Sans","Noto Sans CJK SC",sans-serif' font-size="9.2" fill="#000" stroke="#000" stroke-width="0.12">17 Jul 2020</text>
<rect x="1467" y="926" width="1" height="3" fill="#000"/>
<text x="1466.2" y="938" font-family='"Liberation Sans","Noto Sans CJK SC",sans-serif' font-size="9.2" fill="#000" stroke="#000" stroke-width="0.12">27 Jul 2020</text>
<rect x="1531" y="926" width="1" height="3" fill="#000"/>
<text x="1530.2" y="938" font-family='"Liberation Sans","Noto Sans CJK SC",sans-serif' font-size="9.2" fill="#000" stroke="#000" stroke-width="0.12">5 Aug 2020</text>
<rect x="1595" y="926" width="1" height="3" fill="#000"/>
<text x="1594.2" y="938" font-family='"Liberation Sans","Noto Sans CJK SC",sans-serif' font-size="9.2" fill="#000" stroke="#000" stroke-width="0.12">14 Aug 2020</text>
<rect x="1659" y="926" width="1" height="3" fill="#000"/>
<text x="1658.2" y="938" font-family='"Liberation Sans","Noto Sans CJK SC",sans-serif' font-size="9.2" fill="#000" stroke="#000" stroke-width="0.12">24 Aug 2020</text>
<path d="M-0.5,35 L2.5,31 L5.5,35 Z" fill="#000" shape-rendering="geometricPrecision"/>
<text x="10.5" y="36" font-family='"Liberation Sans","Noto Sans CJK SC",sans-serif' font-size="9.35" fill="#000" stroke="#000" stroke-width="0.12" xml:space="preserve">DJ30-,Daily  28284.0 28476.0 28041.0 28191.0</text>
<text x="0" y="606" font-family='"Liberation Sans","Noto Sans CJK SC",sans-serif' font-size="9.35" fill="#000" stroke="#000" stroke-width="0.12">MACD(12,26,9) 389.12 391.69</text>
<text x="0" y="764" font-family='"Liberation Sans","Noto Sans CJK SC",sans-serif' font-size="9.35" fill="#000" stroke="#000" stroke-width="0.12">RSI(14) 70.0378</text>
</svg>
</body></html>
